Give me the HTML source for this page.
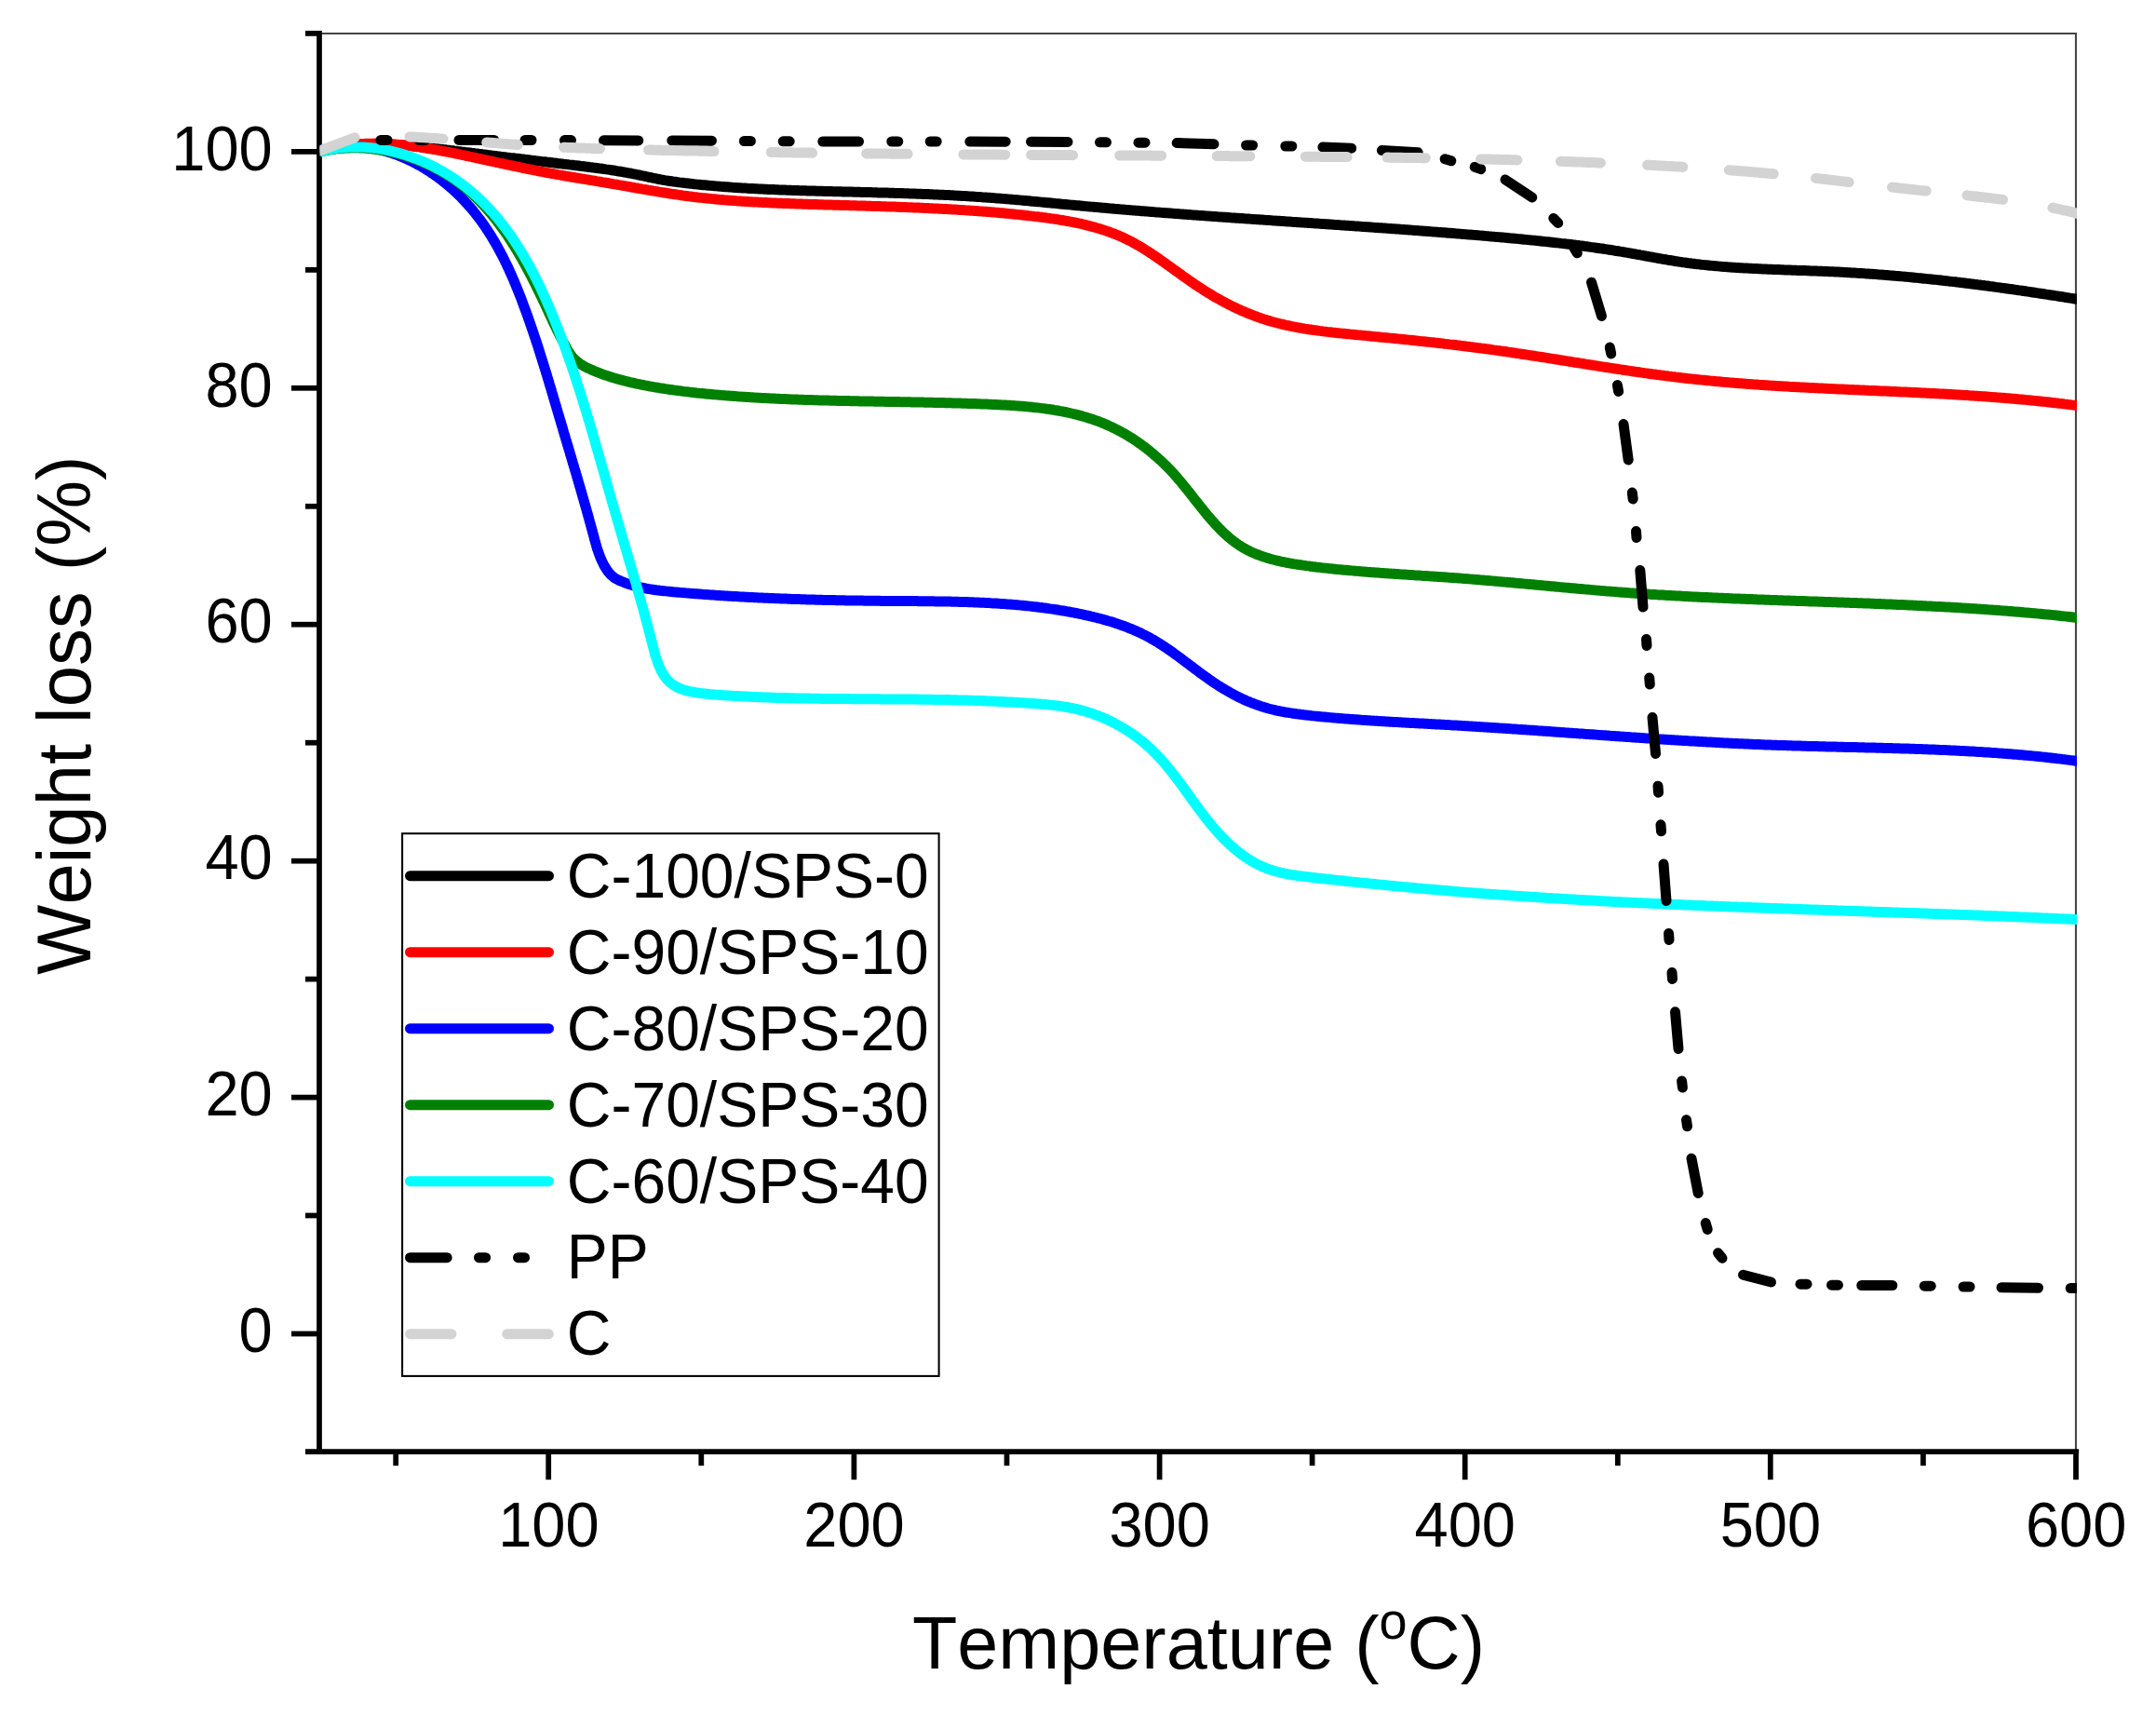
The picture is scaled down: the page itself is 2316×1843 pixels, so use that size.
<!DOCTYPE html>
<html><head><meta charset="utf-8"><title>TGA</title>
<style>html,body{margin:0;padding:0;background:#fff}svg{display:block}</style>
</head><body>
<svg width="2316" height="1843" viewBox="0 0 2316 1843">
<defs><clipPath id="cp"><rect x="343.5" y="36.0" width="1887.5" height="1523.2"/></clipPath></defs>
<rect width="2316" height="1843" fill="#fff"/>
<path d="M343.00,36.05 H2229.95 V1559.20" fill="none" stroke="#444" stroke-width="2.05"/>
<g stroke="#000" stroke-width="5.75" fill="none" stroke-linecap="butt">
<path d="M343.0,33.1 V1562.1"/>
<path d="M328.0,1559.2 H2233.0"/>
<path d="M313.0,1432.5 H343.0"/>
<path d="M328.0,1305.5 H343.0"/>
<path d="M313.0,1178.6 H343.0"/>
<path d="M328.0,1051.6 H343.0"/>
<path d="M313.0,924.7 H343.0"/>
<path d="M328.0,797.7 H343.0"/>
<path d="M313.0,670.7 H343.0"/>
<path d="M328.0,543.8 H343.0"/>
<path d="M313.0,416.8 H343.0"/>
<path d="M328.0,289.9 H343.0"/>
<path d="M313.0,162.9 H343.0"/>
<path d="M328.0,35.9 H343.0"/>
<path d="M425.2,1559.2 V1574.2"/>
<path d="M589.2,1559.2 V1589.2"/>
<path d="M753.3,1559.2 V1574.2"/>
<path d="M917.4,1559.2 V1589.2"/>
<path d="M1081.5,1559.2 V1574.2"/>
<path d="M1245.6,1559.2 V1589.2"/>
<path d="M1409.6,1559.2 V1574.2"/>
<path d="M1573.7,1559.2 V1589.2"/>
<path d="M1737.8,1559.2 V1574.2"/>
<path d="M1901.8,1559.2 V1589.2"/>
<path d="M2065.9,1559.2 V1574.2"/>
<path d="M2230.0,1559.2 V1589.2"/>
</g>
<g clip-path="url(#cp)" fill="none" stroke-linejoin="round">
<path d="M343.4,162.1 L345.3,161.6 L347.3,161.1 L349.2,160.6 L351.2,160.2 L353.2,159.8 L355.1,159.3 L357.1,159.0 L359.1,158.6 L361.1,158.2 L363.0,157.9 L365.0,157.6 L367.0,157.3 L369.0,157.0 L370.9,156.8 L372.9,156.5 L374.9,156.3 L376.9,156.1 L378.9,155.9 L380.8,155.7 L382.8,155.6 L384.8,155.4 L386.8,155.3 L388.8,155.2 L390.8,155.1 L392.7,155.0 L394.7,155.0 L396.7,154.9 L398.7,154.9 L400.7,154.8 L402.7,154.8 L404.7,154.8 L406.7,154.8 L408.6,154.9 L410.6,154.9 L412.6,154.9 L414.6,155.0 L416.6,155.1 L418.6,155.1 L420.6,155.2 L422.6,155.3 L424.6,155.4 L426.6,155.6 L428.6,155.7 L430.6,155.8 L432.6,156.0 L434.6,156.1 L436.6,156.3 L438.6,156.4 L440.5,156.6 L442.5,156.8 L444.5,157.0 L446.5,157.2 L448.5,157.4 L450.5,157.6 L452.5,157.8 L454.5,158.0 L456.5,158.2 L458.5,158.4 L460.5,158.7 L462.5,158.9 L464.5,159.1 L466.5,159.4 L468.5,159.6 L470.5,159.8 L472.5,160.1 L474.5,160.3 L476.4,160.6 L478.4,160.8 L480.4,161.1 L482.4,161.3 L484.4,161.6 L486.4,161.8 L488.4,162.1 L490.4,162.3 L492.4,162.6 L494.4,162.8 L496.4,163.1 L498.3,163.3 L500.3,163.6 L502.3,163.8 L504.3,164.0 L506.3,164.3 L508.3,164.5 L510.3,164.8 L512.2,165.0 L514.2,165.3 L516.2,165.5 L518.2,165.8 L520.2,166.0 L522.2,166.2 L524.2,166.5 L526.1,166.7 L528.1,167.0 L530.1,167.2 L532.1,167.4 L534.1,167.7 L536.0,167.9 L538.0,168.2 L540.0,168.4 L542.0,168.6 L544.0,168.9 L546.0,169.1 L547.9,169.4 L549.9,169.6 L551.9,169.8 L553.9,170.1 L555.9,170.3 L557.8,170.5 L559.8,170.8 L561.8,171.0 L563.8,171.3 L565.8,171.5 L567.8,171.7 L569.7,172.0 L571.7,172.2 L573.7,172.4 L575.7,172.7 L577.7,172.9 L579.6,173.1 L581.6,173.4 L583.6,173.6 L585.6,173.8 L587.6,174.1 L589.5,174.3 L591.5,174.5 L593.5,174.8 L595.5,175.0 L597.5,175.2 L599.5,175.5 L601.4,175.7 L603.4,175.9 L605.4,176.2 L607.4,176.4 L609.4,176.6 L611.4,176.9 L613.4,177.1 L615.3,177.3 L617.3,177.6 L619.3,177.8 L621.3,178.0 L623.3,178.3 L625.3,178.5 L627.2,178.7 L629.2,179.0 L631.2,179.2 L633.2,179.5 L635.2,179.7 L637.2,180.0 L639.2,180.2 L641.1,180.5 L643.1,180.8 L645.1,181.0 L647.1,181.3 L649.1,181.6 L651.0,181.9 L653.0,182.1 L655.0,182.4 L657.0,182.7 L658.9,183.0 L660.9,183.3 L662.9,183.7 L664.9,184.0 L666.8,184.3 L668.8,184.6 L670.8,185.0 L672.7,185.3 L674.7,185.7 L676.7,186.0 L678.6,186.4 L680.6,186.8 L682.5,187.2 L684.5,187.6 L686.5,188.0 L688.4,188.4 L690.4,188.8 L692.3,189.2 L694.3,189.7 L696.2,190.1 L698.2,190.5 L700.1,190.9 L702.1,191.3 L704.0,191.7 L706.0,192.1 L707.9,192.5 L709.9,192.9 L711.8,193.2 L713.8,193.6 L715.8,193.9 L717.7,194.2 L719.7,194.5 L721.7,194.8 L723.7,195.1 L725.6,195.3 L727.6,195.6 L729.6,195.9 L731.6,196.1 L733.6,196.3 L735.5,196.6 L737.5,196.8 L739.5,197.0 L741.5,197.2 L743.5,197.4 L745.5,197.7 L747.4,197.9 L749.4,198.1 L751.4,198.3 L753.4,198.5 L755.4,198.7 L757.4,198.8 L759.4,199.0 L761.4,199.2 L763.3,199.4 L765.3,199.6 L767.3,199.7 L769.3,199.9 L771.3,200.1 L773.3,200.2 L775.3,200.4 L777.3,200.5 L779.3,200.7 L781.3,200.8 L783.3,201.0 L785.2,201.1 L787.2,201.3 L789.2,201.4 L791.2,201.5 L793.2,201.7 L795.2,201.8 L797.2,201.9 L799.2,202.0 L801.2,202.1 L803.2,202.3 L805.2,202.4 L807.2,202.5 L809.2,202.6 L811.2,202.7 L813.2,202.8 L815.2,202.9 L817.2,203.0 L819.2,203.1 L821.2,203.2 L823.2,203.3 L825.2,203.4 L827.2,203.5 L829.2,203.6 L831.2,203.6 L833.2,203.7 L835.2,203.8 L837.2,203.9 L839.2,204.0 L841.2,204.0 L843.2,204.1 L845.2,204.2 L847.2,204.3 L849.2,204.3 L851.2,204.4 L853.2,204.5 L855.2,204.5 L857.2,204.6 L859.2,204.7 L861.2,204.7 L863.2,204.8 L865.2,204.8 L867.2,204.9 L869.2,205.0 L871.2,205.0 L873.2,205.1 L875.2,205.1 L877.2,205.2 L879.2,205.2 L881.2,205.3 L883.2,205.3 L885.2,205.4 L887.2,205.4 L889.2,205.5 L891.2,205.6 L893.2,205.6 L895.2,205.7 L897.2,205.7 L899.2,205.7 L901.3,205.8 L903.3,205.8 L905.3,205.9 L907.3,205.9 L909.3,206.0 L911.3,206.0 L913.3,206.1 L915.3,206.1 L917.3,206.2 L919.3,206.2 L921.3,206.3 L923.3,206.3 L925.3,206.4 L927.3,206.4 L929.3,206.5 L931.3,206.5 L933.3,206.6 L935.3,206.6 L937.3,206.7 L939.3,206.8 L941.3,206.8 L943.3,206.9 L945.3,206.9 L947.3,207.0 L949.3,207.0 L951.3,207.1 L953.3,207.1 L955.3,207.2 L957.3,207.3 L959.3,207.3 L961.3,207.4 L963.3,207.4 L965.3,207.5 L967.3,207.6 L969.3,207.6 L971.3,207.7 L973.3,207.8 L975.3,207.8 L977.3,207.9 L979.2,208.0 L981.2,208.0 L983.2,208.1 L985.2,208.2 L987.2,208.3 L989.2,208.3 L991.2,208.4 L993.2,208.5 L995.2,208.6 L997.2,208.6 L999.2,208.7 L1001.2,208.8 L1003.2,208.9 L1005.2,209.0 L1007.2,209.1 L1009.2,209.2 L1011.2,209.3 L1013.2,209.3 L1015.2,209.4 L1017.2,209.5 L1019.2,209.6 L1021.2,209.7 L1023.2,209.8 L1025.2,209.9 L1027.2,210.1 L1029.2,210.2 L1031.2,210.3 L1033.1,210.4 L1035.1,210.5 L1037.1,210.6 L1039.1,210.7 L1041.1,210.9 L1043.1,211.0 L1045.1,211.1 L1047.1,211.2 L1049.1,211.4 L1051.1,211.5 L1053.1,211.6 L1055.1,211.8 L1057.1,211.9 L1059.1,212.0 L1061.1,212.2 L1063.1,212.3 L1065.1,212.5 L1067.0,212.6 L1069.0,212.8 L1071.0,212.9 L1073.0,213.1 L1075.0,213.2 L1077.0,213.4 L1079.0,213.6 L1081.0,213.7 L1083.0,213.9 L1085.0,214.1 L1087.0,214.2 L1089.0,214.4 L1091.0,214.6 L1092.9,214.7 L1094.9,214.9 L1096.9,215.1 L1098.9,215.3 L1100.9,215.5 L1102.9,215.6 L1104.9,215.8 L1106.9,216.0 L1108.9,216.2 L1110.9,216.4 L1112.9,216.5 L1114.9,216.7 L1116.9,216.9 L1118.8,217.1 L1120.8,217.3 L1122.8,217.5 L1124.8,217.7 L1126.8,217.8 L1128.8,218.0 L1130.8,218.2 L1132.8,218.4 L1134.8,218.6 L1136.8,218.8 L1138.8,219.0 L1140.8,219.2 L1142.7,219.4 L1144.7,219.5 L1146.7,219.7 L1148.7,219.9 L1150.7,220.1 L1152.7,220.3 L1154.7,220.5 L1156.7,220.7 L1158.7,220.8 L1160.7,221.0 L1162.7,221.2 L1164.7,221.4 L1166.7,221.6 L1168.6,221.8 L1170.6,221.9 L1172.6,222.1 L1174.6,222.3 L1176.6,222.5 L1178.6,222.6 L1180.6,222.8 L1182.6,223.0 L1184.6,223.2 L1186.6,223.3 L1188.6,223.5 L1190.6,223.7 L1192.6,223.9 L1194.6,224.0 L1196.5,224.2 L1198.5,224.4 L1200.5,224.5 L1202.5,224.7 L1204.5,224.9 L1206.5,225.0 L1208.5,225.2 L1210.5,225.4 L1212.5,225.5 L1214.5,225.7 L1216.5,225.9 L1218.5,226.0 L1220.5,226.2 L1222.5,226.3 L1224.5,226.5 L1226.4,226.7 L1228.4,226.8 L1230.4,227.0 L1232.4,227.1 L1234.4,227.3 L1236.4,227.5 L1238.4,227.6 L1240.4,227.8 L1242.4,227.9 L1244.4,228.1 L1246.4,228.2 L1248.4,228.4 L1250.4,228.5 L1252.4,228.7 L1254.4,228.8 L1256.4,229.0 L1258.4,229.1 L1260.3,229.3 L1262.3,229.4 L1264.3,229.6 L1266.3,229.7 L1268.3,229.9 L1270.3,230.0 L1272.3,230.2 L1274.3,230.3 L1276.3,230.5 L1278.3,230.6 L1280.3,230.8 L1282.3,230.9 L1284.3,231.1 L1286.3,231.2 L1288.3,231.4 L1290.3,231.5 L1292.3,231.6 L1294.3,231.8 L1296.3,231.9 L1298.3,232.1 L1300.2,232.2 L1302.2,232.4 L1304.2,232.5 L1306.2,232.6 L1308.2,232.8 L1310.2,232.9 L1312.2,233.1 L1314.2,233.2 L1316.2,233.3 L1318.2,233.5 L1320.2,233.6 L1322.2,233.8 L1324.2,233.9 L1326.2,234.0 L1328.2,234.2 L1330.2,234.3 L1332.2,234.5 L1334.2,234.6 L1336.2,234.7 L1338.2,234.9 L1340.1,235.0 L1342.1,235.1 L1344.1,235.3 L1346.1,235.4 L1348.1,235.6 L1350.1,235.7 L1352.1,235.8 L1354.1,236.0 L1356.1,236.1 L1358.1,236.2 L1360.1,236.4 L1362.1,236.5 L1364.1,236.6 L1366.1,236.8 L1368.1,236.9 L1370.1,237.1 L1372.1,237.2 L1374.1,237.3 L1376.1,237.5 L1378.1,237.6 L1380.1,237.7 L1382.1,237.9 L1384.0,238.0 L1386.0,238.1 L1388.0,238.3 L1390.0,238.4 L1392.0,238.5 L1394.0,238.7 L1396.0,238.8 L1398.0,238.9 L1400.0,239.1 L1402.0,239.2 L1404.0,239.3 L1406.0,239.5 L1408.0,239.6 L1410.0,239.7 L1412.0,239.9 L1414.0,240.0 L1416.0,240.1 L1418.0,240.3 L1420.0,240.4 L1422.0,240.6 L1424.0,240.7 L1426.0,240.8 L1427.9,241.0 L1429.9,241.1 L1431.9,241.2 L1433.9,241.4 L1435.9,241.5 L1437.9,241.6 L1439.9,241.8 L1441.9,241.9 L1443.9,242.0 L1445.9,242.2 L1447.9,242.3 L1449.9,242.5 L1451.9,242.6 L1453.9,242.7 L1455.9,242.9 L1457.9,243.0 L1459.9,243.1 L1461.9,243.3 L1463.9,243.4 L1465.9,243.6 L1467.9,243.7 L1469.8,243.8 L1471.8,244.0 L1473.8,244.1 L1475.8,244.3 L1477.8,244.4 L1479.8,244.5 L1481.8,244.7 L1483.8,244.8 L1485.8,245.0 L1487.8,245.1 L1489.8,245.2 L1491.8,245.4 L1493.8,245.5 L1495.8,245.7 L1497.8,245.8 L1499.8,246.0 L1501.8,246.1 L1503.8,246.2 L1505.8,246.4 L1507.7,246.5 L1509.7,246.7 L1511.7,246.8 L1513.7,247.0 L1515.7,247.1 L1517.7,247.3 L1519.7,247.4 L1521.7,247.6 L1523.7,247.7 L1525.7,247.9 L1527.7,248.0 L1529.7,248.2 L1531.7,248.3 L1533.7,248.5 L1535.7,248.6 L1537.7,248.8 L1539.7,248.9 L1541.6,249.1 L1543.6,249.2 L1545.6,249.4 L1547.6,249.5 L1549.6,249.7 L1551.6,249.8 L1553.6,250.0 L1555.6,250.2 L1557.6,250.3 L1559.6,250.5 L1561.6,250.6 L1563.6,250.8 L1565.6,250.9 L1567.6,251.1 L1569.6,251.3 L1571.5,251.4 L1573.5,251.6 L1575.5,251.8 L1577.5,251.9 L1579.5,252.1 L1581.5,252.2 L1583.5,252.4 L1585.5,252.6 L1587.5,252.7 L1589.5,252.9 L1591.5,253.1 L1593.5,253.2 L1595.5,253.4 L1597.5,253.6 L1599.4,253.8 L1601.4,253.9 L1603.4,254.1 L1605.4,254.3 L1607.4,254.4 L1609.4,254.6 L1611.4,254.8 L1613.4,255.0 L1615.4,255.1 L1617.4,255.3 L1619.4,255.5 L1621.4,255.7 L1623.3,255.9 L1625.3,256.0 L1627.3,256.2 L1629.3,256.4 L1631.3,256.6 L1633.3,256.8 L1635.3,257.0 L1637.3,257.2 L1639.3,257.4 L1641.3,257.6 L1643.3,257.8 L1645.2,257.9 L1647.2,258.1 L1649.2,258.3 L1651.2,258.6 L1653.2,258.8 L1655.2,259.0 L1657.2,259.2 L1659.2,259.4 L1661.2,259.6 L1663.1,259.8 L1665.1,260.0 L1667.1,260.2 L1669.1,260.5 L1671.1,260.7 L1673.1,260.9 L1675.1,261.1 L1677.0,261.4 L1679.0,261.6 L1681.0,261.8 L1683.0,262.1 L1685.0,262.3 L1687.0,262.5 L1689.0,262.8 L1690.9,263.0 L1692.9,263.3 L1694.9,263.5 L1696.9,263.8 L1698.9,264.0 L1700.9,264.3 L1702.8,264.6 L1704.8,264.8 L1706.8,265.1 L1708.8,265.4 L1710.8,265.6 L1712.7,265.9 L1714.7,266.2 L1716.7,266.5 L1718.7,266.8 L1720.7,267.0 L1722.6,267.3 L1724.6,267.6 L1726.6,267.9 L1728.6,268.2 L1730.6,268.5 L1732.5,268.8 L1734.5,269.2 L1736.5,269.5 L1738.5,269.8 L1740.4,270.1 L1742.4,270.4 L1744.4,270.8 L1746.3,271.1 L1748.3,271.4 L1750.3,271.8 L1752.3,272.1 L1754.2,272.5 L1756.2,272.8 L1758.2,273.2 L1760.1,273.5 L1762.1,273.9 L1764.1,274.2 L1766.1,274.6 L1768.0,275.0 L1770.0,275.3 L1772.0,275.7 L1773.9,276.0 L1775.9,276.4 L1777.9,276.8 L1779.9,277.1 L1781.8,277.5 L1783.8,277.8 L1785.8,278.2 L1787.7,278.5 L1789.7,278.8 L1791.7,279.2 L1793.7,279.5 L1795.6,279.8 L1797.6,280.1 L1799.6,280.5 L1801.5,280.8 L1803.5,281.1 L1805.5,281.4 L1807.5,281.7 L1809.5,281.9 L1811.4,282.2 L1813.4,282.5 L1815.4,282.7 L1817.4,283.0 L1819.4,283.2 L1821.3,283.5 L1823.3,283.7 L1825.3,283.9 L1827.3,284.2 L1829.3,284.4 L1831.3,284.6 L1833.3,284.8 L1835.2,285.0 L1837.2,285.2 L1839.2,285.4 L1841.2,285.6 L1843.2,285.7 L1845.2,285.9 L1847.2,286.1 L1849.2,286.3 L1851.2,286.4 L1853.2,286.6 L1855.1,286.7 L1857.1,286.9 L1859.1,287.0 L1861.1,287.2 L1863.1,287.3 L1865.1,287.4 L1867.1,287.5 L1869.1,287.7 L1871.1,287.8 L1873.1,287.9 L1875.1,288.0 L1877.1,288.1 L1879.1,288.2 L1881.1,288.3 L1883.1,288.4 L1885.1,288.5 L1887.1,288.6 L1889.1,288.7 L1891.1,288.8 L1893.1,288.9 L1895.1,289.0 L1897.1,289.1 L1899.1,289.2 L1901.1,289.3 L1903.1,289.3 L1905.1,289.4 L1907.1,289.5 L1909.1,289.6 L1911.1,289.6 L1913.1,289.7 L1915.1,289.8 L1917.1,289.9 L1919.1,289.9 L1921.1,290.0 L1923.1,290.1 L1925.1,290.2 L1927.1,290.2 L1929.1,290.3 L1931.1,290.4 L1933.1,290.4 L1935.1,290.5 L1937.1,290.6 L1939.1,290.6 L1941.1,290.7 L1943.1,290.8 L1945.1,290.9 L1947.1,290.9 L1949.1,291.0 L1951.1,291.1 L1953.1,291.2 L1955.1,291.2 L1957.1,291.3 L1959.1,291.4 L1961.1,291.5 L1963.1,291.6 L1965.1,291.7 L1967.1,291.8 L1969.1,291.8 L1971.1,291.9 L1973.1,292.0 L1975.1,292.1 L1977.1,292.2 L1979.1,292.3 L1981.1,292.4 L1983.1,292.6 L1985.1,292.7 L1987.1,292.8 L1989.1,292.9 L1991.1,293.0 L1993.1,293.1 L1995.1,293.3 L1997.1,293.4 L1999.1,293.5 L2001.1,293.6 L2003.1,293.8 L2005.1,293.9 L2007.1,294.0 L2009.1,294.2 L2011.1,294.3 L2013.1,294.5 L2015.1,294.6 L2017.1,294.8 L2019.1,294.9 L2021.1,295.1 L2023.0,295.2 L2025.0,295.4 L2027.0,295.5 L2029.0,295.7 L2031.0,295.9 L2033.0,296.0 L2035.0,296.2 L2037.0,296.4 L2039.0,296.5 L2041.0,296.7 L2043.0,296.9 L2045.0,297.1 L2046.9,297.2 L2048.9,297.4 L2050.9,297.6 L2052.9,297.8 L2054.9,298.0 L2056.9,298.2 L2058.9,298.4 L2060.9,298.6 L2062.9,298.8 L2064.9,299.0 L2066.8,299.2 L2068.8,299.4 L2070.8,299.6 L2072.8,299.8 L2074.8,300.0 L2076.8,300.2 L2078.8,300.4 L2080.8,300.6 L2082.7,300.8 L2084.7,301.0 L2086.7,301.3 L2088.7,301.5 L2090.7,301.7 L2092.7,301.9 L2094.7,302.2 L2096.6,302.4 L2098.6,302.6 L2100.6,302.8 L2102.6,303.1 L2104.6,303.3 L2106.6,303.6 L2108.5,303.8 L2110.5,304.0 L2112.5,304.3 L2114.5,304.5 L2116.5,304.8 L2118.5,305.0 L2120.5,305.3 L2122.4,305.5 L2124.4,305.8 L2126.4,306.0 L2128.4,306.3 L2130.4,306.5 L2132.3,306.8 L2134.3,307.0 L2136.3,307.3 L2138.3,307.6 L2140.3,307.8 L2142.3,308.1 L2144.2,308.4 L2146.2,308.6 L2148.2,308.9 L2150.2,309.2 L2152.2,309.4 L2154.1,309.7 L2156.1,310.0 L2158.1,310.3 L2160.1,310.5 L2162.1,310.8 L2164.0,311.1 L2166.0,311.4 L2168.0,311.7 L2170.0,311.9 L2172.0,312.2 L2173.9,312.5 L2175.9,312.8 L2177.9,313.1 L2179.9,313.4 L2181.9,313.7 L2183.8,314.0 L2185.8,314.3 L2187.8,314.6 L2189.8,314.9 L2191.8,315.2 L2193.7,315.5 L2195.7,315.8 L2197.7,316.1 L2199.7,316.4 L2201.6,316.7 L2203.6,317.0 L2205.6,317.3 L2207.6,317.6 L2209.6,317.9 L2211.5,318.2 L2213.5,318.5 L2215.5,318.8 L2217.5,319.1 L2219.4,319.5 L2221.4,319.8 L2223.4,320.1 L2225.4,320.4 L2227.3,320.7 L2229.3,321.0 L2231.3,321.4 L2233.3,321.7 L2235.3,322.0 L2236.0,322.1" stroke="#000" stroke-width="11.0"/>
<path d="M343.3,162.2 L345.3,161.6 L347.2,161.1 L349.2,160.6 L351.2,160.1 L353.1,159.6 L355.1,159.1 L357.1,158.7 L359.1,158.3 L361.0,157.9 L363.0,157.5 L365.0,157.2 L367.0,156.8 L368.9,156.5 L370.9,156.3 L372.9,156.0 L374.9,155.7 L376.8,155.5 L378.8,155.3 L380.8,155.1 L382.8,154.9 L384.8,154.8 L386.8,154.6 L388.7,154.5 L390.7,154.4 L392.7,154.3 L394.7,154.3 L396.7,154.2 L398.7,154.2 L400.6,154.2 L402.6,154.1 L404.6,154.2 L406.6,154.2 L408.6,154.2 L410.6,154.3 L412.6,154.3 L414.5,154.4 L416.5,154.5 L418.5,154.6 L420.5,154.7 L422.5,154.9 L424.5,155.0 L426.5,155.2 L428.5,155.4 L430.4,155.5 L432.4,155.7 L434.4,155.9 L436.4,156.1 L438.4,156.4 L440.4,156.6 L442.4,156.9 L444.3,157.1 L446.3,157.4 L448.3,157.7 L450.3,157.9 L452.3,158.2 L454.3,158.5 L456.2,158.8 L458.2,159.2 L460.2,159.5 L462.2,159.8 L464.2,160.1 L466.1,160.5 L468.1,160.8 L470.1,161.2 L472.1,161.6 L474.1,161.9 L476.0,162.3 L478.0,162.7 L480.0,163.1 L482.0,163.4 L483.9,163.8 L485.9,164.2 L487.9,164.6 L489.8,165.0 L491.8,165.4 L493.8,165.8 L495.7,166.3 L497.7,166.7 L499.7,167.1 L501.6,167.5 L503.6,167.9 L505.6,168.3 L507.5,168.8 L509.5,169.2 L511.4,169.6 L513.4,170.0 L515.4,170.5 L517.3,170.9 L519.3,171.3 L521.2,171.7 L523.2,172.1 L525.1,172.6 L527.1,173.0 L529.0,173.4 L531.0,173.8 L532.9,174.3 L534.9,174.7 L536.8,175.1 L538.8,175.5 L540.7,175.9 L542.7,176.4 L544.6,176.8 L546.6,177.2 L548.5,177.6 L550.5,178.0 L552.4,178.4 L554.4,178.8 L556.3,179.2 L558.3,179.7 L560.3,180.1 L562.2,180.5 L564.2,180.9 L566.1,181.3 L568.1,181.7 L570.0,182.0 L572.0,182.4 L573.9,182.8 L575.9,183.2 L577.8,183.6 L579.8,184.0 L581.8,184.3 L583.7,184.7 L585.7,185.1 L587.6,185.5 L589.6,185.8 L591.6,186.2 L593.5,186.5 L595.5,186.9 L597.5,187.2 L599.4,187.6 L601.4,187.9 L603.4,188.3 L605.3,188.6 L607.3,189.0 L609.3,189.3 L611.3,189.6 L613.2,190.0 L615.2,190.3 L617.2,190.6 L619.1,191.0 L621.1,191.3 L623.1,191.6 L625.1,192.0 L627.0,192.3 L629.0,192.6 L631.0,192.9 L633.0,193.3 L634.9,193.6 L636.9,193.9 L638.9,194.2 L640.9,194.6 L642.9,194.9 L644.8,195.2 L646.8,195.6 L648.8,195.9 L650.7,196.2 L652.7,196.5 L654.7,196.9 L656.7,197.2 L658.6,197.6 L660.6,197.9 L662.6,198.2 L664.6,198.6 L666.5,198.9 L668.5,199.3 L670.5,199.6 L672.4,199.9 L674.4,200.3 L676.4,200.6 L678.3,201.0 L680.3,201.3 L682.3,201.7 L684.2,202.0 L686.2,202.4 L688.2,202.7 L690.2,203.1 L692.1,203.4 L694.1,203.7 L696.1,204.1 L698.0,204.4 L700.0,204.7 L702.0,205.1 L703.9,205.4 L705.9,205.7 L707.9,206.1 L709.8,206.4 L711.8,206.7 L713.8,207.0 L715.8,207.3 L717.7,207.6 L719.7,208.0 L721.7,208.3 L723.6,208.5 L725.6,208.8 L727.6,209.1 L729.6,209.4 L731.6,209.7 L733.5,210.0 L735.5,210.2 L737.5,210.5 L739.5,210.8 L741.5,211.0 L743.4,211.2 L745.4,211.5 L747.4,211.7 L749.4,212.0 L751.4,212.2 L753.4,212.4 L755.3,212.6 L757.3,212.8 L759.3,213.0 L761.3,213.2 L763.3,213.4 L765.3,213.6 L767.3,213.8 L769.3,214.0 L771.3,214.2 L773.3,214.4 L775.3,214.5 L777.2,214.7 L779.2,214.9 L781.2,215.0 L783.2,215.2 L785.2,215.3 L787.2,215.5 L789.2,215.6 L791.2,215.8 L793.2,215.9 L795.2,216.0 L797.2,216.2 L799.2,216.3 L801.2,216.4 L803.2,216.5 L805.2,216.7 L807.2,216.8 L809.2,216.9 L811.2,217.0 L813.2,217.1 L815.2,217.2 L817.2,217.3 L819.2,217.4 L821.2,217.5 L823.2,217.6 L825.2,217.7 L827.2,217.8 L829.2,217.9 L831.2,218.0 L833.2,218.1 L835.2,218.2 L837.2,218.2 L839.2,218.3 L841.2,218.4 L843.2,218.5 L845.2,218.6 L847.2,218.6 L849.3,218.7 L851.3,218.8 L853.3,218.8 L855.3,218.9 L857.3,219.0 L859.3,219.0 L861.3,219.1 L863.3,219.2 L865.3,219.2 L867.3,219.3 L869.3,219.4 L871.3,219.4 L873.3,219.5 L875.3,219.6 L877.3,219.6 L879.3,219.7 L881.3,219.7 L883.3,219.8 L885.3,219.9 L887.2,219.9 L889.2,220.0 L891.2,220.0 L893.2,220.1 L895.2,220.2 L897.2,220.2 L899.2,220.3 L901.2,220.3 L903.2,220.4 L905.2,220.4 L907.2,220.5 L909.2,220.6 L911.2,220.6 L913.2,220.7 L915.2,220.7 L917.2,220.8 L919.2,220.8 L921.2,220.9 L923.2,221.0 L925.2,221.0 L927.2,221.1 L929.2,221.1 L931.2,221.2 L933.2,221.3 L935.2,221.3 L937.2,221.4 L939.2,221.4 L941.1,221.5 L943.1,221.6 L945.1,221.6 L947.1,221.7 L949.1,221.7 L951.1,221.8 L953.1,221.9 L955.1,221.9 L957.1,222.0 L959.1,222.1 L961.1,222.1 L963.1,222.2 L965.1,222.3 L967.1,222.4 L969.1,222.4 L971.1,222.5 L973.1,222.6 L975.1,222.7 L977.0,222.7 L979.0,222.8 L981.0,222.9 L983.0,223.0 L985.0,223.1 L987.0,223.1 L989.0,223.2 L991.0,223.3 L993.0,223.4 L995.0,223.5 L997.0,223.6 L999.0,223.7 L1001.0,223.8 L1003.0,223.9 L1005.0,224.0 L1007.0,224.1 L1009.0,224.2 L1011.0,224.3 L1012.9,224.4 L1014.9,224.5 L1016.9,224.6 L1018.9,224.7 L1020.9,224.8 L1022.9,224.9 L1024.9,225.0 L1026.9,225.1 L1028.9,225.3 L1030.9,225.4 L1032.9,225.5 L1034.9,225.6 L1036.9,225.8 L1038.9,225.9 L1040.9,226.0 L1042.9,226.2 L1044.9,226.3 L1046.9,226.4 L1048.9,226.6 L1050.9,226.7 L1052.9,226.9 L1054.9,227.0 L1056.9,227.2 L1058.9,227.3 L1060.9,227.5 L1062.8,227.6 L1064.8,227.8 L1066.8,228.0 L1068.8,228.1 L1070.8,228.3 L1072.8,228.5 L1074.8,228.7 L1076.8,228.8 L1078.8,229.0 L1080.8,229.2 L1082.8,229.4 L1084.8,229.6 L1086.8,229.8 L1088.8,230.0 L1090.8,230.2 L1092.8,230.4 L1094.8,230.6 L1096.8,230.8 L1098.8,231.0 L1100.8,231.2 L1102.8,231.4 L1104.8,231.7 L1106.8,231.9 L1108.8,232.1 L1110.9,232.4 L1112.9,232.6 L1114.9,232.8 L1116.9,233.1 L1118.9,233.3 L1120.9,233.6 L1122.9,233.8 L1124.9,234.1 L1126.9,234.4 L1128.9,234.7 L1130.9,234.9 L1132.9,235.2 L1134.8,235.5 L1136.8,235.8 L1138.8,236.2 L1140.8,236.5 L1142.8,236.8 L1144.8,237.2 L1146.8,237.5 L1148.7,237.9 L1150.7,238.2 L1152.7,238.6 L1154.6,239.0 L1156.6,239.4 L1158.6,239.8 L1160.5,240.2 L1162.5,240.7 L1164.4,241.1 L1166.3,241.6 L1168.3,242.1 L1170.2,242.6 L1172.1,243.1 L1174.1,243.6 L1176.0,244.1 L1177.9,244.7 L1179.8,245.2 L1181.7,245.8 L1183.6,246.4 L1185.5,247.0 L1187.3,247.6 L1189.2,248.3 L1191.1,248.9 L1192.9,249.6 L1194.8,250.3 L1196.6,251.0 L1198.4,251.7 L1200.3,252.5 L1202.1,253.2 L1203.9,254.0 L1205.7,254.8 L1207.5,255.6 L1209.3,256.5 L1211.0,257.4 L1212.8,258.2 L1214.6,259.1 L1216.3,260.1 L1218.1,261.0 L1219.8,262.0 L1221.5,263.0 L1223.2,263.9 L1225.0,265.0 L1226.7,266.0 L1228.4,267.0 L1230.1,268.1 L1231.7,269.1 L1233.4,270.2 L1235.1,271.3 L1236.8,272.4 L1238.5,273.5 L1240.1,274.6 L1241.8,275.8 L1243.4,276.9 L1245.1,278.1 L1246.7,279.2 L1248.4,280.4 L1250.0,281.5 L1251.7,282.7 L1253.3,283.9 L1255.0,285.1 L1256.6,286.2 L1258.3,287.4 L1259.9,288.6 L1261.5,289.8 L1263.2,291.0 L1264.8,292.2 L1266.5,293.3 L1268.1,294.5 L1269.7,295.7 L1271.4,296.9 L1273.0,298.0 L1274.7,299.2 L1276.3,300.4 L1278.0,301.5 L1279.7,302.7 L1281.3,303.8 L1283.0,305.0 L1284.6,306.1 L1286.3,307.2 L1288.0,308.3 L1289.7,309.4 L1291.4,310.5 L1293.0,311.6 L1294.7,312.7 L1296.4,313.7 L1298.1,314.8 L1299.9,315.8 L1301.6,316.8 L1303.3,317.9 L1305.0,318.9 L1306.7,319.9 L1308.5,320.8 L1310.2,321.8 L1311.9,322.8 L1313.7,323.7 L1315.4,324.7 L1317.2,325.6 L1318.9,326.5 L1320.7,327.4 L1322.5,328.3 L1324.3,329.2 L1326.0,330.0 L1327.8,330.9 L1329.6,331.7 L1331.4,332.5 L1333.2,333.4 L1335.0,334.2 L1336.8,334.9 L1338.7,335.7 L1340.5,336.5 L1342.3,337.2 L1344.1,337.9 L1346.0,338.6 L1347.8,339.3 L1349.7,340.0 L1351.5,340.7 L1353.4,341.3 L1355.3,342.0 L1357.1,342.6 L1359.0,343.2 L1360.9,343.8 L1362.8,344.4 L1364.7,344.9 L1366.6,345.5 L1368.5,346.0 L1370.4,346.5 L1372.3,347.0 L1374.3,347.5 L1376.2,348.0 L1378.1,348.4 L1380.1,348.9 L1382.0,349.3 L1383.9,349.7 L1385.9,350.2 L1387.8,350.6 L1389.8,350.9 L1391.8,351.3 L1393.7,351.7 L1395.7,352.0 L1397.7,352.4 L1399.6,352.7 L1401.6,353.1 L1403.6,353.4 L1405.6,353.7 L1407.6,354.0 L1409.6,354.3 L1411.6,354.6 L1413.6,354.8 L1415.6,355.1 L1417.6,355.4 L1419.6,355.6 L1421.6,355.9 L1423.6,356.1 L1425.6,356.4 L1427.6,356.6 L1429.6,356.8 L1431.6,357.1 L1433.6,357.3 L1435.6,357.5 L1437.6,357.7 L1439.6,357.9 L1441.6,358.1 L1443.7,358.3 L1445.7,358.5 L1447.7,358.7 L1449.7,358.9 L1451.7,359.1 L1453.7,359.3 L1455.7,359.5 L1457.7,359.7 L1459.7,359.9 L1461.8,360.1 L1463.8,360.2 L1465.8,360.4 L1467.8,360.6 L1469.8,360.8 L1471.8,361.0 L1473.8,361.2 L1475.8,361.4 L1477.8,361.6 L1479.8,361.8 L1481.8,362.0 L1483.8,362.2 L1485.8,362.4 L1487.8,362.6 L1489.8,362.7 L1491.8,362.9 L1493.8,363.1 L1495.8,363.3 L1497.8,363.5 L1499.8,363.7 L1501.7,363.9 L1503.7,364.1 L1505.7,364.3 L1507.7,364.5 L1509.7,364.7 L1511.7,364.9 L1513.7,365.1 L1515.7,365.3 L1517.7,365.5 L1519.6,365.7 L1521.6,365.9 L1523.6,366.2 L1525.6,366.4 L1527.6,366.6 L1529.6,366.8 L1531.6,367.0 L1533.5,367.2 L1535.5,367.4 L1537.5,367.6 L1539.5,367.8 L1541.5,368.1 L1543.4,368.3 L1545.4,368.5 L1547.4,368.7 L1549.4,368.9 L1551.4,369.2 L1553.3,369.4 L1555.3,369.6 L1557.3,369.9 L1559.3,370.1 L1561.2,370.3 L1563.2,370.5 L1565.2,370.8 L1567.2,371.0 L1569.2,371.3 L1571.1,371.5 L1573.1,371.7 L1575.1,372.0 L1577.1,372.2 L1579.0,372.5 L1581.0,372.7 L1583.0,373.0 L1585.0,373.2 L1586.9,373.5 L1588.9,373.7 L1590.9,374.0 L1592.9,374.2 L1594.8,374.5 L1596.8,374.8 L1598.8,375.0 L1600.8,375.3 L1602.7,375.6 L1604.7,375.9 L1606.7,376.1 L1608.7,376.4 L1610.6,376.7 L1612.6,377.0 L1614.6,377.2 L1616.6,377.5 L1618.5,377.8 L1620.5,378.1 L1622.5,378.4 L1624.5,378.7 L1626.4,379.0 L1628.4,379.3 L1630.4,379.6 L1632.4,379.9 L1634.3,380.2 L1636.3,380.5 L1638.3,380.8 L1640.3,381.1 L1642.2,381.4 L1644.2,381.7 L1646.2,382.0 L1648.2,382.3 L1650.1,382.6 L1652.1,382.9 L1654.1,383.2 L1656.1,383.5 L1658.0,383.8 L1660.0,384.1 L1662.0,384.4 L1664.0,384.8 L1665.9,385.1 L1667.9,385.4 L1669.9,385.7 L1671.9,386.0 L1673.8,386.3 L1675.8,386.6 L1677.8,387.0 L1679.8,387.3 L1681.8,387.6 L1683.7,387.9 L1685.7,388.2 L1687.7,388.5 L1689.7,388.9 L1691.6,389.2 L1693.6,389.5 L1695.6,389.8 L1697.6,390.1 L1699.5,390.4 L1701.5,390.7 L1703.5,391.1 L1705.5,391.4 L1707.5,391.7 L1709.4,392.0 L1711.4,392.3 L1713.4,392.6 L1715.4,392.9 L1717.4,393.3 L1719.3,393.6 L1721.3,393.9 L1723.3,394.2 L1725.3,394.5 L1727.2,394.8 L1729.2,395.1 L1731.2,395.4 L1733.2,395.7 L1735.2,396.0 L1737.1,396.3 L1739.1,396.6 L1741.1,396.9 L1743.1,397.2 L1745.1,397.5 L1747.0,397.8 L1749.0,398.1 L1751.0,398.4 L1753.0,398.7 L1755.0,399.0 L1757.0,399.3 L1758.9,399.5 L1760.9,399.8 L1762.9,400.1 L1764.9,400.4 L1766.9,400.7 L1768.8,400.9 L1770.8,401.2 L1772.8,401.5 L1774.8,401.8 L1776.8,402.0 L1778.8,402.3 L1780.7,402.6 L1782.7,402.8 L1784.7,403.1 L1786.7,403.3 L1788.7,403.6 L1790.7,403.8 L1792.7,404.1 L1794.6,404.3 L1796.6,404.6 L1798.6,404.8 L1800.6,405.1 L1802.6,405.3 L1804.6,405.5 L1806.6,405.8 L1808.5,406.0 L1810.5,406.2 L1812.5,406.5 L1814.5,406.7 L1816.5,406.9 L1818.5,407.1 L1820.5,407.3 L1822.5,407.5 L1824.4,407.7 L1826.4,407.9 L1828.4,408.1 L1830.4,408.3 L1832.4,408.5 L1834.4,408.7 L1836.4,408.9 L1838.4,409.1 L1840.4,409.3 L1842.4,409.5 L1844.3,409.7 L1846.3,409.8 L1848.3,410.0 L1850.3,410.2 L1852.3,410.4 L1854.3,410.5 L1856.3,410.7 L1858.3,410.9 L1860.3,411.0 L1862.3,411.2 L1864.3,411.4 L1866.2,411.5 L1868.2,411.7 L1870.2,411.8 L1872.2,412.0 L1874.2,412.1 L1876.2,412.3 L1878.2,412.4 L1880.2,412.6 L1882.2,412.7 L1884.2,412.9 L1886.2,413.0 L1888.2,413.1 L1890.2,413.3 L1892.2,413.4 L1894.2,413.5 L1896.1,413.7 L1898.1,413.8 L1900.1,413.9 L1902.1,414.1 L1904.1,414.2 L1906.1,414.3 L1908.1,414.4 L1910.1,414.6 L1912.1,414.7 L1914.1,414.8 L1916.1,414.9 L1918.1,415.0 L1920.1,415.1 L1922.1,415.3 L1924.1,415.4 L1926.1,415.5 L1928.1,415.6 L1930.1,415.7 L1932.1,415.8 L1934.1,415.9 L1936.1,416.0 L1938.1,416.1 L1940.1,416.2 L1942.0,416.3 L1944.0,416.4 L1946.0,416.5 L1948.0,416.6 L1950.0,416.7 L1952.0,416.8 L1954.0,416.9 L1956.0,417.0 L1958.0,417.1 L1960.0,417.2 L1962.0,417.3 L1964.0,417.4 L1966.0,417.5 L1968.0,417.6 L1970.0,417.7 L1972.0,417.8 L1974.0,417.9 L1976.0,417.9 L1978.0,418.0 L1980.0,418.1 L1982.0,418.2 L1984.0,418.3 L1986.0,418.4 L1988.0,418.5 L1990.0,418.6 L1992.0,418.7 L1994.0,418.7 L1996.0,418.8 L1998.0,418.9 L2000.0,419.0 L2002.0,419.1 L2004.0,419.2 L2006.0,419.3 L2008.0,419.4 L2010.0,419.4 L2012.0,419.5 L2014.0,419.6 L2016.0,419.7 L2018.0,419.8 L2020.0,419.9 L2022.0,420.0 L2024.0,420.1 L2026.0,420.1 L2028.0,420.2 L2030.0,420.3 L2032.0,420.4 L2034.0,420.5 L2035.9,420.6 L2037.9,420.7 L2039.9,420.8 L2041.9,420.9 L2043.9,420.9 L2045.9,421.0 L2047.9,421.1 L2049.9,421.2 L2051.9,421.3 L2053.9,421.4 L2055.9,421.5 L2057.9,421.6 L2059.9,421.7 L2061.9,421.8 L2063.9,421.9 L2065.9,422.0 L2067.9,422.1 L2069.9,422.2 L2071.9,422.3 L2073.9,422.4 L2075.9,422.5 L2077.9,422.6 L2079.9,422.7 L2081.9,422.8 L2083.9,422.9 L2085.9,423.0 L2087.9,423.1 L2089.9,423.2 L2091.9,423.3 L2093.9,423.5 L2095.9,423.6 L2097.9,423.7 L2099.9,423.8 L2101.9,423.9 L2103.9,424.0 L2105.9,424.2 L2107.9,424.3 L2109.9,424.4 L2111.8,424.5 L2113.8,424.6 L2115.8,424.8 L2117.8,424.9 L2119.8,425.0 L2121.8,425.2 L2123.8,425.3 L2125.8,425.4 L2127.8,425.6 L2129.8,425.7 L2131.8,425.8 L2133.8,426.0 L2135.8,426.1 L2137.8,426.3 L2139.8,426.4 L2141.8,426.6 L2143.8,426.7 L2145.8,426.9 L2147.8,427.0 L2149.8,427.2 L2151.7,427.3 L2153.7,427.5 L2155.7,427.7 L2157.7,427.8 L2159.7,428.0 L2161.7,428.2 L2163.7,428.3 L2165.7,428.5 L2167.7,428.7 L2169.7,428.9 L2171.7,429.0 L2173.7,429.2 L2175.7,429.4 L2177.6,429.6 L2179.6,429.8 L2181.6,430.0 L2183.6,430.2 L2185.6,430.4 L2187.6,430.6 L2189.6,430.8 L2191.6,431.0 L2193.6,431.2 L2195.6,431.4 L2197.6,431.6 L2199.5,431.8 L2201.5,432.0 L2203.5,432.3 L2205.5,432.5 L2207.5,432.7 L2209.5,432.9 L2211.5,433.2 L2213.5,433.4 L2215.5,433.6 L2217.4,433.9 L2219.4,434.1 L2221.4,434.4 L2223.4,434.6 L2225.4,434.9 L2227.4,435.1 L2229.4,435.4 L2231.4,435.6 L2233.3,435.9 L2235.0,436.1" stroke="#ff0000" stroke-width="11.0"/>
<path d="M343.3,161.8 L345.3,161.2 L347.3,160.7 L349.3,160.2 L351.3,159.8 L353.3,159.4 L355.3,159.0 L357.3,158.7 L359.3,158.4 L361.3,158.1 L363.3,157.9 L365.3,157.7 L367.3,157.5 L369.3,157.4 L371.3,157.3 L373.2,157.2 L375.2,157.2 L377.2,157.2 L379.2,157.2 L381.2,157.2 L383.2,157.3 L385.1,157.4 L387.1,157.6 L389.1,157.7 L391.0,157.9 L393.0,158.2 L395.0,158.4 L396.9,158.7 L398.9,159.0 L400.8,159.4 L402.8,159.7 L404.7,160.1 L406.6,160.6 L408.6,161.0 L410.5,161.5 L412.4,162.0 L414.3,162.5 L416.2,163.1 L418.1,163.6 L420.0,164.2 L421.9,164.9 L423.8,165.5 L425.7,166.2 L427.5,166.9 L429.4,167.6 L431.3,168.4 L433.1,169.1 L434.9,169.9 L436.8,170.8 L438.6,171.6 L440.4,172.4 L442.2,173.3 L444.0,174.2 L445.8,175.2 L447.6,176.1 L449.4,177.1 L451.1,178.0 L452.9,179.0 L454.6,180.1 L456.3,181.1 L458.1,182.2 L459.8,183.2 L461.5,184.3 L463.2,185.5 L464.8,186.6 L466.5,187.7 L468.2,188.9 L469.8,190.1 L471.4,191.3 L473.1,192.5 L474.7,193.8 L476.3,195.0 L477.8,196.3 L479.4,197.6 L481.0,198.8 L482.5,200.2 L484.0,201.5 L485.6,202.8 L487.1,204.2 L488.6,205.5 L490.0,206.9 L491.5,208.3 L492.9,209.7 L494.4,211.1 L495.8,212.6 L497.2,214.0 L498.6,215.5 L499.9,216.9 L501.3,218.4 L502.6,219.9 L504.0,221.4 L505.3,222.9 L506.6,224.4 L507.9,225.9 L509.1,227.5 L510.4,229.0 L511.6,230.6 L512.8,232.1 L514.0,233.7 L515.2,235.3 L516.4,236.9 L517.6,238.5 L518.7,240.1 L519.8,241.7 L521.0,243.4 L522.1,245.0 L523.2,246.7 L524.3,248.3 L525.3,250.0 L526.4,251.7 L527.5,253.3 L528.5,255.0 L529.5,256.7 L530.5,258.4 L531.5,260.1 L532.5,261.8 L533.5,263.6 L534.5,265.3 L535.4,267.0 L536.4,268.8 L537.3,270.5 L538.2,272.3 L539.2,274.0 L540.1,275.8 L541.0,277.6 L541.9,279.4 L542.7,281.1 L543.6,282.9 L544.5,284.7 L545.3,286.5 L546.2,288.3 L547.0,290.1 L547.8,292.0 L548.6,293.8 L549.5,295.6 L550.3,297.4 L551.1,299.3 L551.9,301.1 L552.6,302.9 L553.4,304.8 L554.2,306.6 L554.9,308.5 L555.7,310.3 L556.4,312.2 L557.2,314.1 L557.9,315.9 L558.7,317.8 L559.4,319.7 L560.1,321.5 L560.8,323.4 L561.5,325.3 L562.2,327.2 L562.9,329.1 L563.6,330.9 L564.3,332.8 L565.0,334.7 L565.7,336.6 L566.4,338.5 L567.1,340.4 L567.7,342.3 L568.4,344.2 L569.1,346.1 L569.7,348.0 L570.4,349.9 L571.0,351.8 L571.7,353.7 L572.3,355.6 L573.0,357.5 L573.6,359.4 L574.2,361.3 L574.9,363.2 L575.5,365.1 L576.1,367.0 L576.8,368.9 L577.4,370.8 L578.0,372.7 L578.6,374.6 L579.2,376.5 L579.8,378.5 L580.4,380.4 L581.0,382.3 L581.6,384.2 L582.2,386.1 L582.8,388.0 L583.4,390.0 L584.0,391.9 L584.6,393.8 L585.2,395.7 L585.8,397.6 L586.4,399.6 L587.0,401.5 L587.6,403.4 L588.1,405.3 L588.7,407.2 L589.3,409.1 L589.9,411.1 L590.4,413.0 L591.0,414.9 L591.6,416.8 L592.2,418.7 L592.7,420.7 L593.3,422.6 L593.9,424.5 L594.4,426.4 L595.0,428.3 L595.6,430.3 L596.1,432.2 L596.7,434.1 L597.3,436.0 L597.8,437.9 L598.4,439.8 L599.0,441.8 L599.5,443.7 L600.1,445.6 L600.7,447.5 L601.2,449.4 L601.8,451.3 L602.4,453.2 L602.9,455.1 L603.5,457.0 L604.1,458.9 L604.6,460.8 L605.2,462.8 L605.7,464.7 L606.3,466.6 L606.9,468.5 L607.4,470.4 L608.0,472.3 L608.6,474.2 L609.1,476.1 L609.7,478.0 L610.3,479.9 L610.8,481.8 L611.4,483.7 L612.0,485.6 L612.5,487.5 L613.1,489.4 L613.7,491.3 L614.2,493.2 L614.8,495.1 L615.3,497.0 L615.9,498.9 L616.5,500.8 L617.0,502.7 L617.6,504.6 L618.2,506.5 L618.7,508.4 L619.3,510.3 L619.8,512.2 L620.4,514.2 L621.0,516.1 L621.5,518.0 L622.1,519.9 L622.6,521.8 L623.2,523.7 L623.7,525.6 L624.3,527.5 L624.8,529.4 L625.4,531.4 L625.9,533.3 L626.5,535.2 L627.0,537.1 L627.6,539.0 L628.1,541.0 L628.7,542.9 L629.2,544.8 L629.8,546.7 L630.3,548.7 L630.9,550.6 L631.4,552.5 L631.9,554.5 L632.5,556.4 L633.0,558.3 L633.5,560.3 L634.1,562.2 L634.6,564.2 L635.1,566.1 L635.7,568.1 L636.2,570.0 L636.7,572.0 L637.3,573.9 L637.8,575.9 L638.3,577.8 L638.8,579.8 L639.4,581.7 L639.9,583.7 L640.5,585.6 L641.0,587.6 L641.6,589.5 L642.3,591.4 L642.9,593.3 L643.6,595.2 L644.3,597.1 L645.0,599.0 L645.8,600.8 L646.6,602.6 L647.5,604.4 L648.4,606.2 L649.3,607.9 L650.3,609.6 L651.4,611.3 L652.5,613.0 L653.7,614.5 L655.0,616.1 L656.4,617.5 L657.8,618.8 L659.4,620.1 L661.0,621.2 L662.8,622.2 L664.6,623.1 L666.4,623.9 L668.3,624.7 L670.2,625.4 L672.0,626.2 L673.9,626.8 L675.8,627.5 L677.7,628.1 L679.6,628.7 L681.6,629.2 L683.5,629.7 L685.4,630.2 L687.4,630.7 L689.3,631.1 L691.3,631.5 L693.2,631.9 L695.2,632.3 L697.1,632.6 L699.1,632.9 L701.1,633.2 L703.0,633.5 L705.0,633.8 L707.0,634.0 L709.0,634.3 L711.0,634.5 L713.0,634.7 L715.0,634.9 L717.0,635.1 L719.0,635.3 L721.0,635.5 L722.9,635.7 L724.9,635.9 L726.9,636.0 L728.9,636.2 L730.9,636.4 L732.9,636.6 L734.9,636.7 L736.9,636.9 L738.9,637.1 L740.9,637.2 L742.9,637.4 L744.9,637.5 L746.9,637.7 L748.9,637.8 L750.9,638.0 L752.9,638.1 L754.9,638.3 L756.9,638.4 L758.9,638.6 L760.9,638.7 L762.9,638.9 L764.9,639.0 L766.9,639.1 L768.8,639.3 L770.8,639.4 L772.8,639.5 L774.8,639.7 L776.8,639.8 L778.8,639.9 L780.8,640.0 L782.8,640.2 L784.8,640.3 L786.8,640.4 L788.8,640.5 L790.8,640.6 L792.8,640.7 L794.8,640.9 L796.8,641.0 L798.8,641.1 L800.8,641.2 L802.8,641.3 L804.7,641.4 L806.7,641.5 L808.7,641.6 L810.7,641.7 L812.7,641.8 L814.7,641.9 L816.7,642.0 L818.7,642.1 L820.7,642.2 L822.7,642.2 L824.7,642.3 L826.7,642.4 L828.7,642.5 L830.7,642.6 L832.7,642.7 L834.7,642.8 L836.7,642.8 L838.6,642.9 L840.6,643.0 L842.6,643.1 L844.6,643.1 L846.6,643.2 L848.6,643.3 L850.6,643.4 L852.6,643.4 L854.6,643.5 L856.6,643.6 L858.6,643.6 L860.6,643.7 L862.6,643.7 L864.6,643.8 L866.6,643.9 L868.6,643.9 L870.6,644.0 L872.6,644.0 L874.6,644.1 L876.6,644.2 L878.6,644.2 L880.6,644.3 L882.6,644.3 L884.5,644.4 L886.5,644.4 L888.5,644.4 L890.5,644.5 L892.5,644.5 L894.5,644.6 L896.5,644.6 L898.5,644.7 L900.5,644.7 L902.5,644.7 L904.5,644.8 L906.5,644.8 L908.5,644.9 L910.5,644.9 L912.5,644.9 L914.5,645.0 L916.5,645.0 L918.5,645.0 L920.5,645.0 L922.5,645.1 L924.5,645.1 L926.5,645.1 L928.5,645.2 L930.5,645.2 L932.5,645.2 L934.5,645.2 L936.5,645.3 L938.5,645.3 L940.5,645.3 L942.5,645.3 L944.5,645.3 L946.5,645.4 L948.5,645.4 L950.5,645.4 L952.5,645.4 L954.5,645.4 L956.6,645.4 L958.6,645.5 L960.6,645.5 L962.6,645.5 L964.6,645.5 L966.6,645.5 L968.6,645.5 L970.6,645.5 L972.6,645.5 L974.6,645.6 L976.6,645.6 L978.6,645.6 L980.6,645.6 L982.6,645.6 L984.6,645.6 L986.6,645.7 L988.6,645.7 L990.6,645.7 L992.6,645.7 L994.6,645.7 L996.7,645.8 L998.7,645.8 L1000.7,645.8 L1002.7,645.8 L1004.7,645.9 L1006.7,645.9 L1008.7,645.9 L1010.7,645.9 L1012.7,646.0 L1014.7,646.0 L1016.7,646.1 L1018.7,646.1 L1020.7,646.1 L1022.7,646.2 L1024.7,646.2 L1026.7,646.3 L1028.7,646.3 L1030.7,646.4 L1032.7,646.4 L1034.7,646.5 L1036.7,646.6 L1038.7,646.6 L1040.7,646.7 L1042.7,646.8 L1044.7,646.8 L1046.7,646.9 L1048.7,647.0 L1050.7,647.1 L1052.7,647.2 L1054.7,647.2 L1056.7,647.3 L1058.7,647.4 L1060.7,647.5 L1062.7,647.6 L1064.7,647.8 L1066.7,647.9 L1068.7,648.0 L1070.7,648.1 L1072.7,648.2 L1074.7,648.4 L1076.7,648.5 L1078.7,648.6 L1080.7,648.8 L1082.7,648.9 L1084.7,649.1 L1086.7,649.2 L1088.7,649.4 L1090.7,649.6 L1092.6,649.7 L1094.6,649.9 L1096.6,650.1 L1098.6,650.3 L1100.6,650.5 L1102.6,650.7 L1104.6,650.9 L1106.6,651.1 L1108.5,651.3 L1110.5,651.6 L1112.5,651.8 L1114.5,652.0 L1116.5,652.3 L1118.5,652.5 L1120.4,652.8 L1122.4,653.0 L1124.4,653.3 L1126.4,653.6 L1128.3,653.9 L1130.3,654.1 L1132.3,654.4 L1134.3,654.7 L1136.2,655.0 L1138.2,655.4 L1140.2,655.7 L1142.2,656.0 L1144.1,656.3 L1146.1,656.7 L1148.1,657.0 L1150.0,657.4 L1152.0,657.8 L1154.0,658.1 L1155.9,658.5 L1157.9,658.9 L1159.9,659.3 L1161.8,659.7 L1163.8,660.1 L1165.7,660.6 L1167.7,661.0 L1169.6,661.4 L1171.6,661.9 L1173.5,662.3 L1175.5,662.8 L1177.4,663.3 L1179.4,663.8 L1181.3,664.3 L1183.2,664.8 L1185.2,665.3 L1187.1,665.9 L1189.0,666.4 L1190.9,667.0 L1192.9,667.5 L1194.8,668.1 L1196.7,668.7 L1198.6,669.4 L1200.5,670.0 L1202.3,670.6 L1204.2,671.3 L1206.1,672.0 L1208.0,672.6 L1209.8,673.3 L1211.7,674.1 L1213.5,674.8 L1215.4,675.5 L1217.2,676.3 L1219.0,677.1 L1220.9,677.9 L1222.7,678.7 L1224.5,679.5 L1226.3,680.4 L1228.0,681.3 L1229.8,682.2 L1231.6,683.1 L1233.3,684.0 L1235.1,684.9 L1236.8,685.9 L1238.5,686.9 L1240.3,687.9 L1242.0,688.9 L1243.7,690.0 L1245.3,691.0 L1247.0,692.1 L1248.7,693.2 L1250.4,694.3 L1252.0,695.4 L1253.7,696.5 L1255.3,697.6 L1257.0,698.8 L1258.6,699.9 L1260.3,701.1 L1261.9,702.3 L1263.5,703.5 L1265.2,704.6 L1266.8,705.8 L1268.4,707.0 L1270.0,708.2 L1271.6,709.5 L1273.2,710.7 L1274.9,711.9 L1276.5,713.1 L1278.1,714.3 L1279.7,715.5 L1281.3,716.7 L1282.9,718.0 L1284.6,719.2 L1286.2,720.4 L1287.8,721.6 L1289.4,722.8 L1291.0,724.0 L1292.7,725.2 L1294.3,726.4 L1296.0,727.5 L1297.6,728.7 L1299.2,729.9 L1300.9,731.0 L1302.6,732.2 L1304.2,733.3 L1305.9,734.4 L1307.6,735.5 L1309.3,736.6 L1311.0,737.7 L1312.7,738.7 L1314.4,739.8 L1316.1,740.8 L1317.9,741.8 L1319.6,742.8 L1321.3,743.8 L1323.1,744.8 L1324.9,745.7 L1326.6,746.7 L1328.4,747.6 L1330.2,748.5 L1332.0,749.4 L1333.8,750.2 L1335.6,751.1 L1337.4,751.9 L1339.2,752.7 L1341.1,753.5 L1342.9,754.2 L1344.8,755.0 L1346.6,755.7 L1348.5,756.4 L1350.3,757.1 L1352.2,757.7 L1354.1,758.4 L1356.0,759.0 L1357.9,759.6 L1359.8,760.1 L1361.7,760.7 L1363.6,761.2 L1365.5,761.7 L1367.5,762.2 L1369.4,762.6 L1371.3,763.1 L1373.3,763.5 L1375.2,763.9 L1377.2,764.3 L1379.2,764.6 L1381.1,765.0 L1383.1,765.3 L1385.1,765.6 L1387.0,765.9 L1389.0,766.2 L1391.0,766.5 L1393.0,766.8 L1395.0,767.0 L1397.0,767.3 L1398.9,767.5 L1400.9,767.8 L1402.9,768.0 L1404.9,768.2 L1406.9,768.4 L1408.9,768.7 L1410.9,768.9 L1412.9,769.1 L1414.9,769.3 L1416.9,769.5 L1418.9,769.7 L1420.9,769.9 L1422.9,770.0 L1424.9,770.2 L1426.9,770.4 L1428.9,770.6 L1430.9,770.8 L1432.9,770.9 L1434.9,771.1 L1436.9,771.3 L1438.9,771.5 L1440.9,771.6 L1442.9,771.8 L1444.8,771.9 L1446.8,772.1 L1448.8,772.2 L1450.8,772.4 L1452.8,772.5 L1454.8,772.7 L1456.8,772.8 L1458.8,773.0 L1460.8,773.1 L1462.8,773.3 L1464.8,773.4 L1466.8,773.5 L1468.8,773.7 L1470.8,773.8 L1472.8,773.9 L1474.8,774.1 L1476.8,774.2 L1478.8,774.3 L1480.8,774.4 L1482.8,774.6 L1484.8,774.7 L1486.8,774.8 L1488.8,774.9 L1490.8,775.0 L1492.8,775.2 L1494.7,775.3 L1496.7,775.4 L1498.7,775.5 L1500.7,775.6 L1502.7,775.7 L1504.7,775.8 L1506.7,775.9 L1508.7,776.1 L1510.7,776.2 L1512.7,776.3 L1514.7,776.4 L1516.7,776.5 L1518.7,776.6 L1520.7,776.7 L1522.7,776.8 L1524.7,776.9 L1526.7,777.0 L1528.7,777.1 L1530.7,777.2 L1532.7,777.3 L1534.7,777.4 L1536.7,777.6 L1538.7,777.7 L1540.7,777.8 L1542.6,777.9 L1544.6,778.0 L1546.6,778.1 L1548.6,778.2 L1550.6,778.3 L1552.6,778.4 L1554.6,778.5 L1556.6,778.6 L1558.6,778.8 L1560.6,778.9 L1562.6,779.0 L1564.6,779.1 L1566.6,779.2 L1568.6,779.3 L1570.6,779.4 L1572.6,779.6 L1574.6,779.7 L1576.6,779.8 L1578.6,779.9 L1580.6,780.0 L1582.6,780.2 L1584.6,780.3 L1586.5,780.4 L1588.5,780.5 L1590.5,780.7 L1592.5,780.8 L1594.5,780.9 L1596.5,781.0 L1598.5,781.2 L1600.5,781.3 L1602.5,781.4 L1604.5,781.5 L1606.5,781.7 L1608.5,781.8 L1610.5,781.9 L1612.5,782.1 L1614.5,782.2 L1616.5,782.3 L1618.5,782.5 L1620.5,782.6 L1622.5,782.7 L1624.5,782.9 L1626.4,783.0 L1628.4,783.1 L1630.4,783.3 L1632.4,783.4 L1634.4,783.5 L1636.4,783.7 L1638.4,783.8 L1640.4,783.9 L1642.4,784.1 L1644.4,784.2 L1646.4,784.3 L1648.4,784.5 L1650.4,784.6 L1652.4,784.8 L1654.4,784.9 L1656.4,785.0 L1658.4,785.2 L1660.4,785.3 L1662.4,785.5 L1664.4,785.6 L1666.3,785.7 L1668.3,785.9 L1670.3,786.0 L1672.3,786.2 L1674.3,786.3 L1676.3,786.4 L1678.3,786.6 L1680.3,786.7 L1682.3,786.9 L1684.3,787.0 L1686.3,787.2 L1688.3,787.3 L1690.3,787.4 L1692.3,787.6 L1694.3,787.7 L1696.3,787.9 L1698.3,788.0 L1700.3,788.1 L1702.3,788.3 L1704.3,788.4 L1706.3,788.6 L1708.2,788.7 L1710.2,788.8 L1712.2,789.0 L1714.2,789.1 L1716.2,789.3 L1718.2,789.4 L1720.2,789.6 L1722.2,789.7 L1724.2,789.8 L1726.2,790.0 L1728.2,790.1 L1730.2,790.3 L1732.2,790.4 L1734.2,790.5 L1736.2,790.7 L1738.2,790.8 L1740.2,790.9 L1742.2,791.1 L1744.2,791.2 L1746.2,791.4 L1748.2,791.5 L1750.1,791.6 L1752.1,791.8 L1754.1,791.9 L1756.1,792.0 L1758.1,792.2 L1760.1,792.3 L1762.1,792.4 L1764.1,792.6 L1766.1,792.7 L1768.1,792.9 L1770.1,793.0 L1772.1,793.1 L1774.1,793.2 L1776.1,793.4 L1778.1,793.5 L1780.1,793.6 L1782.1,793.8 L1784.1,793.9 L1786.1,794.0 L1788.1,794.2 L1790.1,794.3 L1792.1,794.4 L1794.1,794.5 L1796.1,794.7 L1798.1,794.8 L1800.1,794.9 L1802.0,795.0 L1804.0,795.2 L1806.0,795.3 L1808.0,795.4 L1810.0,795.5 L1812.0,795.6 L1814.0,795.8 L1816.0,795.9 L1818.0,796.0 L1820.0,796.1 L1822.0,796.2 L1824.0,796.3 L1826.0,796.5 L1828.0,796.6 L1830.0,796.7 L1832.0,796.8 L1834.0,796.9 L1836.0,797.0 L1838.0,797.1 L1840.0,797.2 L1842.0,797.3 L1844.0,797.5 L1846.0,797.6 L1848.0,797.7 L1850.0,797.8 L1852.0,797.9 L1854.0,798.0 L1856.0,798.1 L1858.0,798.2 L1860.0,798.3 L1862.0,798.4 L1864.0,798.5 L1866.0,798.6 L1868.0,798.7 L1870.0,798.8 L1872.0,798.8 L1874.0,798.9 L1875.9,799.0 L1877.9,799.1 L1879.9,799.2 L1881.9,799.3 L1883.9,799.4 L1885.9,799.5 L1887.9,799.5 L1889.9,799.6 L1891.9,799.7 L1893.9,799.8 L1895.9,799.9 L1897.9,799.9 L1899.9,800.0 L1901.9,800.1 L1903.9,800.2 L1905.9,800.2 L1907.9,800.3 L1909.9,800.4 L1911.9,800.4 L1913.9,800.5 L1915.9,800.6 L1917.9,800.6 L1919.9,800.7 L1921.9,800.8 L1923.9,800.8 L1925.9,800.9 L1927.9,801.0 L1929.9,801.0 L1931.9,801.1 L1933.9,801.1 L1935.9,801.2 L1937.9,801.2 L1939.9,801.3 L1941.9,801.4 L1943.9,801.4 L1945.9,801.5 L1947.9,801.5 L1949.9,801.6 L1951.9,801.6 L1953.9,801.7 L1955.9,801.7 L1957.9,801.8 L1959.9,801.8 L1961.9,801.9 L1963.9,801.9 L1965.9,802.0 L1967.9,802.0 L1969.9,802.1 L1971.9,802.1 L1973.9,802.2 L1975.9,802.2 L1977.9,802.3 L1979.9,802.3 L1981.9,802.4 L1983.9,802.4 L1985.9,802.5 L1987.9,802.5 L1989.9,802.6 L1991.9,802.6 L1993.9,802.6 L1995.9,802.7 L1997.9,802.7 L1999.9,802.8 L2001.9,802.8 L2003.9,802.9 L2005.9,802.9 L2007.9,803.0 L2009.9,803.0 L2011.9,803.1 L2013.9,803.1 L2015.9,803.2 L2017.9,803.2 L2019.9,803.3 L2021.9,803.3 L2023.9,803.4 L2025.9,803.5 L2027.9,803.5 L2029.9,803.6 L2031.9,803.6 L2033.9,803.7 L2035.9,803.7 L2037.9,803.8 L2039.9,803.8 L2041.9,803.9 L2043.9,804.0 L2045.9,804.0 L2047.9,804.1 L2049.9,804.1 L2051.9,804.2 L2053.9,804.3 L2055.9,804.3 L2057.9,804.4 L2059.9,804.5 L2061.9,804.5 L2063.9,804.6 L2065.9,804.7 L2067.9,804.8 L2069.9,804.8 L2071.9,804.9 L2073.9,805.0 L2075.9,805.1 L2077.9,805.1 L2079.9,805.2 L2081.9,805.3 L2083.9,805.4 L2085.9,805.5 L2087.9,805.5 L2089.9,805.6 L2091.9,805.7 L2093.9,805.8 L2095.9,805.9 L2097.9,806.0 L2099.9,806.1 L2101.9,806.2 L2103.9,806.3 L2105.9,806.4 L2107.8,806.5 L2109.8,806.6 L2111.8,806.7 L2113.8,806.8 L2115.8,806.9 L2117.8,807.0 L2119.8,807.1 L2121.8,807.2 L2123.8,807.4 L2125.8,807.5 L2127.8,807.6 L2129.8,807.7 L2131.8,807.9 L2133.8,808.0 L2135.8,808.1 L2137.8,808.2 L2139.8,808.4 L2141.8,808.5 L2143.8,808.6 L2145.8,808.8 L2147.8,808.9 L2149.7,809.1 L2151.7,809.2 L2153.7,809.4 L2155.7,809.5 L2157.7,809.7 L2159.7,809.8 L2161.7,810.0 L2163.7,810.2 L2165.7,810.3 L2167.7,810.5 L2169.7,810.7 L2171.7,810.8 L2173.7,811.0 L2175.6,811.2 L2177.6,811.4 L2179.6,811.6 L2181.6,811.7 L2183.6,811.9 L2185.6,812.1 L2187.6,812.3 L2189.6,812.5 L2191.6,812.7 L2193.6,812.9 L2195.6,813.1 L2197.5,813.3 L2199.5,813.6 L2201.5,813.8 L2203.5,814.0 L2205.5,814.2 L2207.5,814.4 L2209.5,814.7 L2211.5,814.9 L2213.4,815.1 L2215.4,815.4 L2217.4,815.6 L2219.4,815.9 L2221.4,816.1 L2223.4,816.4 L2225.4,816.6 L2227.4,816.9 L2229.3,817.2 L2231.3,817.4 L2233.3,817.7 L2235.0,817.9" stroke="#0000ff" stroke-width="11.0"/>
<path d="M343.7,163.1 L345.6,162.7 L347.5,162.2 L349.4,161.8 L351.4,161.5 L353.3,161.1 L355.2,160.8 L357.2,160.5 L359.1,160.2 L361.1,159.9 L363.1,159.7 L365.0,159.5 L367.0,159.3 L369.0,159.2 L371.0,159.1 L372.9,159.0 L374.9,158.9 L376.9,158.8 L378.9,158.8 L380.9,158.8 L382.9,158.8 L384.9,158.8 L386.9,158.9 L388.9,159.0 L390.9,159.1 L392.9,159.2 L394.9,159.4 L396.9,159.5 L398.9,159.7 L400.9,160.0 L402.8,160.2 L404.8,160.5 L406.8,160.8 L408.8,161.1 L410.8,161.4 L412.8,161.7 L414.8,162.1 L416.7,162.5 L418.7,162.9 L420.7,163.4 L422.7,163.8 L424.6,164.3 L426.6,164.8 L428.5,165.3 L430.5,165.9 L432.4,166.4 L434.4,167.0 L436.3,167.6 L438.2,168.3 L440.1,168.9 L442.1,169.6 L444.0,170.2 L445.9,171.0 L447.7,171.7 L449.6,172.4 L451.5,173.2 L453.4,174.0 L455.2,174.8 L457.1,175.6 L458.9,176.4 L460.7,177.3 L462.6,178.1 L464.4,179.0 L466.2,179.9 L468.0,180.9 L469.7,181.8 L471.5,182.8 L473.3,183.8 L475.0,184.8 L476.7,185.8 L478.5,186.8 L480.2,187.9 L481.9,188.9 L483.5,190.0 L485.2,191.1 L486.9,192.2 L488.5,193.4 L490.1,194.5 L491.7,195.7 L493.3,196.9 L494.9,198.1 L496.5,199.3 L498.0,200.5 L499.6,201.8 L501.1,203.0 L502.6,204.3 L504.1,205.6 L505.6,206.9 L507.0,208.2 L508.5,209.6 L509.9,210.9 L511.4,212.3 L512.8,213.7 L514.2,215.0 L515.6,216.4 L516.9,217.9 L518.3,219.3 L519.6,220.7 L521.0,222.2 L522.3,223.6 L523.6,225.1 L524.9,226.6 L526.2,228.1 L527.5,229.6 L528.8,231.1 L530.0,232.7 L531.3,234.2 L532.5,235.8 L533.7,237.3 L534.9,238.9 L536.1,240.5 L537.3,242.1 L538.5,243.7 L539.7,245.3 L540.8,246.9 L542.0,248.6 L543.1,250.2 L544.3,251.9 L545.4,253.5 L546.5,255.2 L547.6,256.8 L548.7,258.5 L549.8,260.2 L550.8,261.9 L551.9,263.6 L553.0,265.3 L554.0,267.0 L555.1,268.7 L556.1,270.5 L557.1,272.2 L558.1,273.9 L559.2,275.7 L560.2,277.4 L561.2,279.2 L562.1,280.9 L563.1,282.7 L564.1,284.5 L565.1,286.2 L566.0,288.0 L567.0,289.8 L567.9,291.6 L568.9,293.4 L569.8,295.1 L570.8,296.9 L571.7,298.7 L572.6,300.5 L573.5,302.3 L574.4,304.1 L575.3,305.9 L576.2,307.7 L577.1,309.5 L578.0,311.4 L578.9,313.2 L579.8,315.0 L580.6,316.8 L581.5,318.6 L582.4,320.4 L583.2,322.2 L584.1,324.0 L585.0,325.8 L585.8,327.7 L586.7,329.5 L587.5,331.3 L588.4,333.1 L589.2,334.9 L590.0,336.7 L590.9,338.5 L591.7,340.3 L592.6,342.1 L593.4,343.9 L594.2,345.7 L595.1,347.5 L595.9,349.3 L596.8,351.1 L597.7,352.9 L598.5,354.7 L599.4,356.4 L600.3,358.2 L601.2,360.0 L602.1,361.8 L603.0,363.5 L603.9,365.3 L604.8,367.1 L605.8,368.9 L606.8,370.6 L607.7,372.4 L608.7,374.1 L609.7,375.9 L610.8,377.6 L611.9,379.3 L613.0,380.9 L614.2,382.5 L615.5,384.0 L616.8,385.5 L618.3,386.8 L619.8,388.1 L621.3,389.4 L622.9,390.5 L624.6,391.6 L626.3,392.7 L628.0,393.7 L629.8,394.6 L631.6,395.5 L633.5,396.3 L635.3,397.1 L637.2,397.9 L639.0,398.7 L640.9,399.5 L642.8,400.2 L644.6,400.9 L646.5,401.6 L648.4,402.3 L650.3,403.0 L652.2,403.6 L654.1,404.2 L656.0,404.8 L657.9,405.4 L659.8,406.0 L661.7,406.6 L663.6,407.1 L665.5,407.6 L667.4,408.2 L669.4,408.7 L671.3,409.2 L673.2,409.6 L675.2,410.1 L677.1,410.6 L679.0,411.0 L681.0,411.4 L682.9,411.9 L684.9,412.3 L686.8,412.7 L688.8,413.1 L690.8,413.5 L692.7,413.9 L694.7,414.2 L696.6,414.6 L698.6,415.0 L700.6,415.3 L702.6,415.7 L704.5,416.0 L706.5,416.3 L708.5,416.7 L710.5,417.0 L712.4,417.3 L714.4,417.6 L716.4,417.9 L718.4,418.2 L720.4,418.5 L722.4,418.8 L724.4,419.1 L726.4,419.3 L728.4,419.6 L730.4,419.8 L732.4,420.1 L734.3,420.4 L736.3,420.6 L738.3,420.8 L740.3,421.1 L742.3,421.3 L744.3,421.5 L746.3,421.7 L748.3,422.0 L750.3,422.2 L752.3,422.4 L754.4,422.6 L756.4,422.8 L758.4,423.0 L760.4,423.2 L762.4,423.3 L764.4,423.5 L766.4,423.7 L768.4,423.9 L770.4,424.1 L772.4,424.2 L774.4,424.4 L776.4,424.6 L778.4,424.7 L780.4,424.9 L782.4,425.0 L784.4,425.2 L786.3,425.3 L788.3,425.5 L790.3,425.6 L792.3,425.8 L794.3,425.9 L796.3,426.1 L798.3,426.2 L800.3,426.3 L802.3,426.5 L804.3,426.6 L806.3,426.7 L808.3,426.8 L810.3,426.9 L812.3,427.1 L814.3,427.2 L816.2,427.3 L818.2,427.4 L820.2,427.5 L822.2,427.6 L824.2,427.7 L826.2,427.8 L828.2,427.9 L830.2,428.0 L832.2,428.1 L834.2,428.2 L836.1,428.3 L838.1,428.4 L840.1,428.5 L842.1,428.6 L844.1,428.6 L846.1,428.7 L848.1,428.8 L850.1,428.9 L852.0,429.0 L854.0,429.0 L856.0,429.1 L858.0,429.2 L860.0,429.3 L862.0,429.3 L864.0,429.4 L865.9,429.5 L867.9,429.5 L869.9,429.6 L871.9,429.6 L873.9,429.7 L875.9,429.8 L877.9,429.8 L879.8,429.9 L881.8,429.9 L883.8,430.0 L885.8,430.0 L887.8,430.1 L889.8,430.1 L891.8,430.2 L893.7,430.2 L895.7,430.3 L897.7,430.3 L899.7,430.4 L901.7,430.4 L903.7,430.5 L905.7,430.5 L907.7,430.6 L909.6,430.6 L911.6,430.6 L913.6,430.7 L915.6,430.7 L917.6,430.8 L919.6,430.8 L921.6,430.8 L923.6,430.9 L925.6,430.9 L927.5,431.0 L929.5,431.0 L931.5,431.0 L933.5,431.1 L935.5,431.1 L937.5,431.1 L939.5,431.2 L941.5,431.2 L943.5,431.2 L945.5,431.3 L947.4,431.3 L949.4,431.3 L951.4,431.4 L953.4,431.4 L955.4,431.4 L957.4,431.5 L959.4,431.5 L961.4,431.6 L963.4,431.6 L965.4,431.6 L967.4,431.7 L969.4,431.7 L971.4,431.7 L973.4,431.8 L975.4,431.8 L977.4,431.8 L979.4,431.9 L981.4,431.9 L983.4,432.0 L985.4,432.0 L987.4,432.0 L989.4,432.1 L991.4,432.1 L993.4,432.2 L995.4,432.2 L997.4,432.2 L999.4,432.3 L1001.4,432.3 L1003.4,432.4 L1005.4,432.4 L1007.4,432.5 L1009.4,432.5 L1011.4,432.6 L1013.5,432.6 L1015.5,432.7 L1017.5,432.7 L1019.5,432.8 L1021.5,432.8 L1023.5,432.9 L1025.5,432.9 L1027.5,433.0 L1029.6,433.1 L1031.6,433.1 L1033.6,433.2 L1035.6,433.2 L1037.6,433.3 L1039.6,433.4 L1041.7,433.4 L1043.7,433.5 L1045.7,433.6 L1047.7,433.6 L1049.7,433.7 L1051.8,433.8 L1053.8,433.9 L1055.8,434.0 L1057.8,434.0 L1059.9,434.1 L1061.9,434.2 L1063.9,434.3 L1066.0,434.4 L1068.0,434.5 L1070.0,434.6 L1072.1,434.7 L1074.1,434.8 L1076.1,434.9 L1078.1,435.0 L1080.2,435.1 L1082.2,435.2 L1084.2,435.3 L1086.3,435.4 L1088.3,435.6 L1090.3,435.7 L1092.3,435.9 L1094.4,436.0 L1096.4,436.2 L1098.4,436.3 L1100.4,436.5 L1102.5,436.7 L1104.5,436.9 L1106.5,437.0 L1108.5,437.2 L1110.5,437.5 L1112.5,437.7 L1114.5,437.9 L1116.5,438.1 L1118.5,438.4 L1120.5,438.6 L1122.5,438.9 L1124.5,439.2 L1126.5,439.4 L1128.5,439.7 L1130.5,440.0 L1132.4,440.4 L1134.4,440.7 L1136.4,441.0 L1138.3,441.4 L1140.3,441.7 L1142.3,442.1 L1144.2,442.5 L1146.1,442.9 L1148.1,443.3 L1150.0,443.8 L1152.0,444.2 L1153.9,444.7 L1155.8,445.1 L1157.7,445.6 L1159.6,446.1 L1161.5,446.6 L1163.4,447.2 L1165.3,447.7 L1167.2,448.3 L1169.1,448.9 L1170.9,449.5 L1172.8,450.1 L1174.7,450.7 L1176.5,451.4 L1178.4,452.0 L1180.2,452.7 L1182.0,453.4 L1183.9,454.1 L1185.7,454.9 L1187.5,455.6 L1189.3,456.4 L1191.1,457.2 L1192.9,458.0 L1194.6,458.9 L1196.4,459.7 L1198.2,460.6 L1199.9,461.5 L1201.7,462.4 L1203.4,463.3 L1205.1,464.3 L1206.8,465.2 L1208.6,466.2 L1210.3,467.2 L1211.9,468.2 L1213.6,469.2 L1215.3,470.3 L1217.0,471.3 L1218.6,472.4 L1220.3,473.5 L1221.9,474.6 L1223.5,475.8 L1225.2,476.9 L1226.8,478.1 L1228.4,479.3 L1230.0,480.4 L1231.5,481.7 L1233.1,482.9 L1234.7,484.1 L1236.2,485.4 L1237.8,486.7 L1239.3,488.0 L1240.8,489.3 L1242.3,490.6 L1243.8,491.9 L1245.3,493.3 L1246.8,494.6 L1248.3,496.0 L1249.8,497.4 L1251.2,498.8 L1252.6,500.2 L1254.1,501.7 L1255.5,503.1 L1256.9,504.6 L1258.3,506.1 L1259.7,507.6 L1261.1,509.1 L1262.4,510.6 L1263.8,512.2 L1265.1,513.7 L1266.4,515.3 L1267.8,516.8 L1269.1,518.4 L1270.4,520.0 L1271.7,521.6 L1273.0,523.2 L1274.3,524.8 L1275.6,526.4 L1276.9,528.0 L1278.2,529.6 L1279.4,531.2 L1280.7,532.8 L1282.0,534.5 L1283.2,536.1 L1284.5,537.7 L1285.8,539.3 L1287.1,540.9 L1288.3,542.5 L1289.6,544.1 L1290.9,545.7 L1292.2,547.3 L1293.4,548.9 L1294.7,550.5 L1296.0,552.1 L1297.3,553.6 L1298.6,555.2 L1299.9,556.7 L1301.2,558.2 L1302.6,559.7 L1303.9,561.2 L1305.2,562.7 L1306.6,564.2 L1308.0,565.6 L1309.3,567.0 L1310.7,568.5 L1312.1,569.9 L1313.5,571.2 L1314.9,572.6 L1316.4,573.9 L1317.8,575.2 L1319.3,576.5 L1320.7,577.8 L1322.2,579.0 L1323.7,580.2 L1325.3,581.4 L1326.8,582.5 L1328.4,583.7 L1330.0,584.8 L1331.6,585.8 L1333.2,586.9 L1334.8,587.9 L1336.5,588.8 L1338.2,589.8 L1339.9,590.7 L1341.6,591.6 L1343.3,592.4 L1345.1,593.2 L1346.9,594.0 L1348.7,594.8 L1350.5,595.5 L1352.3,596.2 L1354.1,596.9 L1356.0,597.6 L1357.9,598.2 L1359.8,598.8 L1361.7,599.4 L1363.6,599.9 L1365.5,600.5 L1367.4,601.0 L1369.4,601.5 L1371.3,602.0 L1373.3,602.4 L1375.3,602.9 L1377.2,603.3 L1379.2,603.7 L1381.2,604.1 L1383.2,604.5 L1385.2,604.9 L1387.3,605.2 L1389.3,605.6 L1391.3,605.9 L1393.3,606.2 L1395.4,606.5 L1397.4,606.8 L1399.4,607.1 L1401.5,607.4 L1403.5,607.7 L1405.5,607.9 L1407.6,608.2 L1409.6,608.5 L1411.6,608.7 L1413.7,609.0 L1415.7,609.2 L1417.7,609.4 L1419.7,609.7 L1421.8,609.9 L1423.8,610.1 L1425.8,610.3 L1427.8,610.6 L1429.8,610.8 L1431.8,611.0 L1433.8,611.2 L1435.9,611.4 L1437.9,611.6 L1439.9,611.8 L1441.9,612.0 L1443.9,612.2 L1445.9,612.3 L1447.9,612.5 L1449.9,612.7 L1451.9,612.9 L1453.9,613.1 L1455.9,613.2 L1457.9,613.4 L1459.9,613.6 L1461.9,613.7 L1463.9,613.9 L1465.8,614.0 L1467.8,614.2 L1469.8,614.4 L1471.8,614.5 L1473.8,614.7 L1475.8,614.8 L1477.8,615.0 L1479.8,615.1 L1481.7,615.2 L1483.7,615.4 L1485.7,615.5 L1487.7,615.7 L1489.7,615.8 L1491.7,615.9 L1493.6,616.1 L1495.6,616.2 L1497.6,616.3 L1499.6,616.5 L1501.5,616.6 L1503.5,616.7 L1505.5,616.9 L1507.5,617.0 L1509.5,617.1 L1511.4,617.2 L1513.4,617.4 L1515.4,617.5 L1517.4,617.6 L1519.3,617.8 L1521.3,617.9 L1523.3,618.0 L1525.3,618.1 L1527.2,618.3 L1529.2,618.4 L1531.2,618.5 L1533.2,618.6 L1535.1,618.8 L1537.1,618.9 L1539.1,619.0 L1541.1,619.2 L1543.0,619.3 L1545.0,619.4 L1547.0,619.6 L1549.0,619.7 L1551.0,619.8 L1552.9,620.0 L1554.9,620.1 L1556.9,620.3 L1558.9,620.4 L1560.8,620.5 L1562.8,620.7 L1564.8,620.8 L1566.8,621.0 L1568.8,621.1 L1570.8,621.3 L1572.7,621.4 L1574.7,621.6 L1576.7,621.7 L1578.7,621.9 L1580.7,622.1 L1582.7,622.2 L1584.7,622.4 L1586.6,622.5 L1588.6,622.7 L1590.6,622.9 L1592.6,623.0 L1594.6,623.2 L1596.6,623.4 L1598.6,623.5 L1600.6,623.7 L1602.6,623.9 L1604.6,624.1 L1606.5,624.2 L1608.5,624.4 L1610.5,624.6 L1612.5,624.8 L1614.5,624.9 L1616.5,625.1 L1618.5,625.3 L1620.5,625.5 L1622.5,625.6 L1624.5,625.8 L1626.5,626.0 L1628.5,626.2 L1630.5,626.4 L1632.5,626.5 L1634.5,626.7 L1636.5,626.9 L1638.5,627.1 L1640.5,627.3 L1642.5,627.5 L1644.5,627.6 L1646.5,627.8 L1648.5,628.0 L1650.5,628.2 L1652.4,628.4 L1654.4,628.6 L1656.4,628.7 L1658.4,628.9 L1660.4,629.1 L1662.4,629.3 L1664.4,629.5 L1666.4,629.7 L1668.4,629.8 L1670.4,630.0 L1672.4,630.2 L1674.4,630.4 L1676.4,630.6 L1678.4,630.8 L1680.4,630.9 L1682.4,631.1 L1684.5,631.3 L1686.5,631.5 L1688.5,631.7 L1690.5,631.8 L1692.5,632.0 L1694.5,632.2 L1696.5,632.4 L1698.5,632.5 L1700.5,632.7 L1702.5,632.9 L1704.5,633.1 L1706.5,633.2 L1708.5,633.4 L1710.5,633.6 L1712.5,633.8 L1714.5,633.9 L1716.5,634.1 L1718.5,634.3 L1720.5,634.4 L1722.5,634.6 L1724.5,634.8 L1726.5,634.9 L1728.5,635.1 L1730.5,635.2 L1732.5,635.4 L1734.5,635.6 L1736.5,635.7 L1738.5,635.9 L1740.5,636.0 L1742.5,636.2 L1744.5,636.3 L1746.5,636.5 L1748.5,636.6 L1750.5,636.8 L1752.5,636.9 L1754.5,637.0 L1756.5,637.2 L1758.5,637.3 L1760.5,637.5 L1762.5,637.6 L1764.5,637.7 L1766.4,637.9 L1768.4,638.0 L1770.4,638.1 L1772.4,638.3 L1774.4,638.4 L1776.4,638.5 L1778.4,638.6 L1780.4,638.8 L1782.4,638.9 L1784.4,639.0 L1786.4,639.1 L1788.4,639.2 L1790.4,639.4 L1792.4,639.5 L1794.4,639.6 L1796.4,639.7 L1798.4,639.8 L1800.4,639.9 L1802.4,640.0 L1804.4,640.1 L1806.4,640.2 L1808.4,640.4 L1810.3,640.5 L1812.3,640.6 L1814.3,640.7 L1816.3,640.8 L1818.3,640.9 L1820.3,641.0 L1822.3,641.1 L1824.3,641.2 L1826.3,641.3 L1828.3,641.4 L1830.3,641.5 L1832.3,641.5 L1834.3,641.6 L1836.3,641.7 L1838.3,641.8 L1840.3,641.9 L1842.3,642.0 L1844.2,642.1 L1846.2,642.2 L1848.2,642.3 L1850.2,642.3 L1852.2,642.4 L1854.2,642.5 L1856.2,642.6 L1858.2,642.7 L1860.2,642.8 L1862.2,642.9 L1864.2,642.9 L1866.2,643.0 L1868.2,643.1 L1870.2,643.2 L1872.2,643.3 L1874.2,643.3 L1876.2,643.4 L1878.1,643.5 L1880.1,643.6 L1882.1,643.6 L1884.1,643.7 L1886.1,643.8 L1888.1,643.9 L1890.1,643.9 L1892.1,644.0 L1894.1,644.1 L1896.1,644.2 L1898.1,644.2 L1900.1,644.3 L1902.1,644.4 L1904.1,644.5 L1906.1,644.5 L1908.1,644.6 L1910.1,644.7 L1912.1,644.7 L1914.1,644.8 L1916.1,644.9 L1918.1,644.9 L1920.1,645.0 L1922.1,645.1 L1924.1,645.2 L1926.1,645.2 L1928.1,645.3 L1930.1,645.4 L1932.1,645.4 L1934.1,645.5 L1936.0,645.6 L1938.0,645.6 L1940.0,645.7 L1942.0,645.8 L1944.0,645.9 L1946.0,645.9 L1948.0,646.0 L1950.0,646.1 L1952.0,646.1 L1954.0,646.2 L1956.0,646.3 L1958.0,646.3 L1960.0,646.4 L1962.0,646.5 L1964.0,646.5 L1966.0,646.6 L1968.0,646.7 L1970.0,646.8 L1972.0,646.8 L1974.0,646.9 L1976.0,647.0 L1978.0,647.0 L1980.0,647.1 L1982.0,647.2 L1984.0,647.3 L1986.0,647.3 L1988.0,647.4 L1990.0,647.5 L1992.0,647.5 L1994.0,647.6 L1996.0,647.7 L1998.0,647.8 L2000.0,647.8 L2002.0,647.9 L2004.0,648.0 L2006.0,648.1 L2008.0,648.1 L2010.0,648.2 L2012.0,648.3 L2014.0,648.4 L2016.0,648.5 L2018.0,648.5 L2020.0,648.6 L2022.0,648.7 L2024.0,648.8 L2026.0,648.9 L2028.0,648.9 L2030.0,649.0 L2032.0,649.1 L2034.0,649.2 L2036.0,649.3 L2038.0,649.4 L2040.0,649.5 L2042.0,649.5 L2044.0,649.6 L2046.0,649.7 L2048.0,649.8 L2050.0,649.9 L2052.0,650.0 L2054.0,650.1 L2056.0,650.2 L2058.0,650.3 L2060.0,650.4 L2062.0,650.5 L2064.0,650.6 L2066.0,650.7 L2068.0,650.8 L2070.0,650.9 L2072.0,651.0 L2074.0,651.1 L2076.0,651.2 L2078.0,651.3 L2080.0,651.4 L2082.0,651.5 L2084.0,651.6 L2086.0,651.7 L2088.0,651.8 L2090.0,651.9 L2092.0,652.0 L2094.0,652.1 L2096.0,652.2 L2098.0,652.3 L2100.0,652.5 L2102.0,652.6 L2104.0,652.7 L2106.0,652.8 L2108.0,652.9 L2110.0,653.1 L2112.0,653.2 L2114.0,653.3 L2116.0,653.4 L2118.0,653.6 L2120.0,653.7 L2122.0,653.8 L2124.0,653.9 L2126.0,654.1 L2128.0,654.2 L2129.9,654.3 L2131.9,654.5 L2133.9,654.6 L2135.9,654.8 L2137.9,654.9 L2139.9,655.0 L2141.9,655.2 L2143.9,655.3 L2145.9,655.5 L2147.9,655.6 L2149.9,655.8 L2151.9,655.9 L2153.9,656.1 L2155.9,656.2 L2157.9,656.4 L2159.9,656.5 L2161.9,656.7 L2163.8,656.9 L2165.8,657.0 L2167.8,657.2 L2169.8,657.3 L2171.8,657.5 L2173.8,657.7 L2175.8,657.9 L2177.8,658.0 L2179.8,658.2 L2181.8,658.4 L2183.8,658.6 L2185.8,658.7 L2187.7,658.9 L2189.7,659.1 L2191.7,659.3 L2193.7,659.5 L2195.7,659.7 L2197.7,659.9 L2199.7,660.0 L2201.7,660.2 L2203.7,660.4 L2205.7,660.6 L2207.6,660.8 L2209.6,661.0 L2211.6,661.2 L2213.6,661.5 L2215.6,661.7 L2217.6,661.9 L2219.6,662.1 L2221.5,662.3 L2223.5,662.5 L2225.5,662.7 L2227.5,663.0 L2229.5,663.2 L2231.5,663.4 L2233.5,663.6 L2235.0,663.8" stroke="#008000" stroke-width="11.0"/>
<path d="M343.6,163.1 L345.6,162.6 L347.5,162.1 L349.4,161.6 L351.3,161.2 L353.2,160.8 L355.2,160.4 L357.1,160.0 L359.1,159.7 L361.0,159.4 L363.0,159.1 L364.9,158.9 L366.9,158.7 L368.9,158.5 L370.8,158.3 L372.8,158.2 L374.8,158.1 L376.8,158.0 L378.7,157.9 L380.7,157.9 L382.7,157.9 L384.7,157.9 L386.7,157.9 L388.7,158.0 L390.7,158.1 L392.7,158.2 L394.6,158.4 L396.6,158.5 L398.6,158.7 L400.6,158.9 L402.6,159.2 L404.6,159.4 L406.6,159.7 L408.6,160.0 L410.5,160.3 L412.5,160.7 L414.5,161.1 L416.5,161.5 L418.5,161.9 L420.4,162.3 L422.4,162.8 L424.4,163.3 L426.3,163.8 L428.3,164.3 L430.2,164.9 L432.2,165.4 L434.1,166.0 L436.0,166.6 L438.0,167.3 L439.9,167.9 L441.8,168.6 L443.7,169.3 L445.6,170.0 L447.5,170.7 L449.4,171.5 L451.3,172.2 L453.2,173.0 L455.0,173.8 L456.9,174.6 L458.7,175.5 L460.6,176.3 L462.4,177.2 L464.2,178.1 L466.0,179.0 L467.8,179.9 L469.6,180.9 L471.4,181.8 L473.2,182.8 L475.0,183.8 L476.7,184.8 L478.4,185.8 L480.2,186.9 L481.9,187.9 L483.6,189.0 L485.3,190.1 L487.0,191.2 L488.6,192.3 L490.3,193.5 L491.9,194.6 L493.5,195.8 L495.1,196.9 L496.7,198.1 L498.3,199.3 L499.9,200.6 L501.4,201.8 L503.0,203.0 L504.5,204.3 L506.0,205.6 L507.5,206.8 L509.0,208.1 L510.5,209.4 L512.0,210.8 L513.4,212.1 L514.9,213.4 L516.3,214.8 L517.7,216.2 L519.1,217.6 L520.5,218.9 L521.9,220.4 L523.2,221.8 L524.6,223.2 L525.9,224.6 L527.2,226.1 L528.6,227.5 L529.9,229.0 L531.2,230.5 L532.4,232.0 L533.7,233.5 L535.0,235.0 L536.2,236.5 L537.5,238.1 L538.7,239.6 L539.9,241.2 L541.1,242.7 L542.3,244.3 L543.5,245.9 L544.7,247.5 L545.8,249.1 L547.0,250.7 L548.1,252.3 L549.3,253.9 L550.4,255.5 L551.5,257.2 L552.6,258.8 L553.7,260.5 L554.8,262.2 L555.8,263.8 L556.9,265.5 L558.0,267.2 L559.0,268.9 L560.1,270.6 L561.1,272.3 L562.1,274.0 L563.1,275.7 L564.1,277.5 L565.1,279.2 L566.1,280.9 L567.1,282.7 L568.1,284.4 L569.0,286.2 L570.0,288.0 L570.9,289.7 L571.9,291.5 L572.8,293.3 L573.7,295.1 L574.6,296.9 L575.5,298.7 L576.4,300.5 L577.3,302.3 L578.2,304.1 L579.1,305.9 L580.0,307.7 L580.8,309.5 L581.7,311.4 L582.5,313.2 L583.4,315.0 L584.2,316.9 L585.0,318.7 L585.9,320.6 L586.7,322.4 L587.5,324.2 L588.3,326.1 L589.1,328.0 L589.9,329.8 L590.7,331.7 L591.5,333.5 L592.3,335.4 L593.0,337.3 L593.8,339.1 L594.6,341.0 L595.3,342.9 L596.1,344.7 L596.8,346.6 L597.6,348.5 L598.3,350.4 L599.0,352.2 L599.8,354.1 L600.5,356.0 L601.2,357.9 L601.9,359.8 L602.7,361.6 L603.4,363.5 L604.1,365.4 L604.8,367.3 L605.5,369.2 L606.2,371.1 L606.8,372.9 L607.5,374.8 L608.2,376.7 L608.9,378.6 L609.5,380.5 L610.2,382.4 L610.9,384.3 L611.5,386.1 L612.2,388.0 L612.9,389.9 L613.5,391.8 L614.2,393.7 L614.8,395.6 L615.4,397.5 L616.1,399.4 L616.7,401.3 L617.3,403.2 L618.0,405.1 L618.6,407.0 L619.2,408.9 L619.8,410.8 L620.4,412.7 L621.1,414.6 L621.7,416.5 L622.3,418.4 L622.9,420.3 L623.5,422.2 L624.1,424.1 L624.7,426.0 L625.3,427.9 L625.9,429.8 L626.5,431.7 L627.0,433.6 L627.6,435.5 L628.2,437.4 L628.8,439.3 L629.4,441.2 L630.0,443.1 L630.5,445.0 L631.1,447.0 L631.7,448.9 L632.3,450.8 L632.8,452.7 L633.4,454.6 L634.0,456.5 L634.5,458.4 L635.1,460.3 L635.6,462.2 L636.2,464.2 L636.8,466.1 L637.3,468.0 L637.9,469.9 L638.4,471.8 L639.0,473.7 L639.5,475.6 L640.1,477.6 L640.6,479.5 L641.2,481.4 L641.7,483.3 L642.3,485.2 L642.8,487.1 L643.4,489.1 L643.9,491.0 L644.5,492.9 L645.0,494.8 L645.6,496.7 L646.1,498.7 L646.6,500.6 L647.2,502.5 L647.7,504.4 L648.3,506.3 L648.8,508.3 L649.4,510.2 L649.9,512.1 L650.5,514.0 L651.0,515.9 L651.5,517.9 L652.1,519.8 L652.6,521.7 L653.2,523.6 L653.7,525.5 L654.3,527.5 L654.8,529.4 L655.4,531.3 L655.9,533.2 L656.4,535.2 L657.0,537.1 L657.5,539.0 L658.1,540.9 L658.6,542.9 L659.2,544.8 L659.7,546.7 L660.3,548.6 L660.9,550.6 L661.4,552.5 L662.0,554.4 L662.5,556.3 L663.1,558.3 L663.6,560.2 L664.2,562.1 L664.8,564.0 L665.3,566.0 L665.9,567.9 L666.5,569.8 L667.0,571.7 L667.6,573.7 L668.1,575.6 L668.7,577.5 L669.3,579.4 L669.8,581.4 L670.4,583.3 L671.0,585.2 L671.5,587.1 L672.1,589.1 L672.7,591.0 L673.2,592.9 L673.8,594.9 L674.4,596.8 L674.9,598.7 L675.5,600.6 L676.1,602.6 L676.6,604.5 L677.2,606.4 L677.8,608.3 L678.3,610.3 L678.9,612.2 L679.5,614.1 L680.0,616.1 L680.6,618.0 L681.1,619.9 L681.7,621.9 L682.3,623.8 L682.8,625.7 L683.4,627.6 L683.9,629.6 L684.5,631.5 L685.0,633.4 L685.6,635.4 L686.1,637.3 L686.7,639.2 L687.2,641.2 L687.8,643.1 L688.3,645.0 L688.8,646.9 L689.4,648.9 L689.9,650.8 L690.5,652.7 L691.0,654.7 L691.5,656.6 L692.1,658.5 L692.6,660.5 L693.1,662.4 L693.6,664.3 L694.2,666.3 L694.7,668.2 L695.2,670.1 L695.7,672.1 L696.2,674.0 L696.7,675.9 L697.2,677.9 L697.7,679.8 L698.2,681.7 L698.7,683.7 L699.2,685.6 L699.7,687.5 L700.2,689.5 L700.7,691.4 L701.2,693.3 L701.7,695.3 L702.2,697.2 L702.7,699.1 L703.2,701.1 L703.8,703.0 L704.3,704.9 L704.9,706.8 L705.5,708.7 L706.2,710.5 L706.8,712.4 L707.6,714.2 L708.3,716.1 L709.2,717.9 L710.0,719.7 L710.9,721.5 L711.9,723.2 L713.0,724.9 L714.1,726.6 L715.2,728.2 L716.5,729.8 L717.9,731.2 L719.3,732.6 L720.8,733.9 L722.4,735.0 L724.1,736.1 L725.8,737.1 L727.6,738.1 L729.4,738.9 L731.2,739.7 L733.1,740.4 L735.0,741.0 L737.0,741.6 L738.9,742.1 L740.9,742.5 L742.9,743.0 L744.9,743.3 L746.9,743.7 L748.9,744.0 L750.9,744.3 L752.9,744.6 L754.9,744.8 L756.9,745.0 L758.9,745.2 L760.8,745.4 L762.8,745.6 L764.8,745.8 L766.8,746.0 L768.8,746.1 L770.8,746.3 L772.8,746.4 L774.7,746.5 L776.7,746.7 L778.7,746.8 L780.7,746.9 L782.7,747.0 L784.7,747.2 L786.7,747.3 L788.6,747.4 L790.6,747.5 L792.6,747.6 L794.6,747.7 L796.6,747.8 L798.6,747.9 L800.6,748.0 L802.6,748.1 L804.6,748.2 L806.6,748.3 L808.6,748.4 L810.6,748.5 L812.6,748.6 L814.5,748.7 L816.5,748.7 L818.5,748.8 L820.5,748.9 L822.5,749.0 L824.5,749.0 L826.5,749.1 L828.5,749.2 L830.5,749.2 L832.5,749.3 L834.5,749.4 L836.5,749.4 L838.5,749.5 L840.5,749.5 L842.5,749.6 L844.5,749.6 L846.5,749.7 L848.5,749.7 L850.5,749.8 L852.5,749.8 L854.5,749.9 L856.5,749.9 L858.5,750.0 L860.5,750.0 L862.5,750.0 L864.5,750.1 L866.5,750.1 L868.5,750.1 L870.5,750.2 L872.5,750.2 L874.6,750.2 L876.6,750.3 L878.6,750.3 L880.6,750.3 L882.6,750.4 L884.6,750.4 L886.6,750.4 L888.6,750.4 L890.6,750.5 L892.6,750.5 L894.6,750.5 L896.6,750.5 L898.6,750.5 L900.6,750.6 L902.6,750.6 L904.6,750.6 L906.6,750.6 L908.6,750.6 L910.6,750.6 L912.6,750.6 L914.6,750.7 L916.7,750.7 L918.7,750.7 L920.7,750.7 L922.7,750.7 L924.7,750.7 L926.7,750.7 L928.7,750.8 L930.7,750.8 L932.7,750.8 L934.7,750.8 L936.7,750.8 L938.7,750.8 L940.7,750.8 L942.7,750.8 L944.7,750.8 L946.7,750.9 L948.7,750.9 L950.7,750.9 L952.7,750.9 L954.7,750.9 L956.7,750.9 L958.7,750.9 L960.7,750.9 L962.7,751.0 L964.7,751.0 L966.7,751.0 L968.7,751.0 L970.7,751.0 L972.7,751.0 L974.7,751.0 L976.8,751.1 L978.8,751.1 L980.8,751.1 L982.8,751.1 L984.8,751.1 L986.8,751.2 L988.8,751.2 L990.8,751.2 L992.8,751.2 L994.8,751.3 L996.8,751.3 L998.8,751.3 L1000.8,751.3 L1002.8,751.4 L1004.8,751.4 L1006.7,751.4 L1008.7,751.5 L1010.7,751.5 L1012.7,751.5 L1014.7,751.6 L1016.7,751.6 L1018.7,751.6 L1020.7,751.7 L1022.7,751.7 L1024.7,751.8 L1026.7,751.8 L1028.7,751.9 L1030.7,751.9 L1032.7,752.0 L1034.7,752.0 L1036.7,752.1 L1038.7,752.1 L1040.7,752.2 L1042.7,752.2 L1044.7,752.3 L1046.7,752.4 L1048.7,752.4 L1050.7,752.5 L1052.7,752.6 L1054.7,752.6 L1056.7,752.7 L1058.7,752.8 L1060.7,752.9 L1062.7,752.9 L1064.7,753.0 L1066.7,753.1 L1068.7,753.2 L1070.7,753.3 L1072.6,753.4 L1074.6,753.5 L1076.6,753.6 L1078.6,753.7 L1080.6,753.8 L1082.6,753.9 L1084.6,754.0 L1086.6,754.1 L1088.6,754.2 L1090.6,754.3 L1092.6,754.4 L1094.6,754.5 L1096.6,754.7 L1098.6,754.8 L1100.6,754.9 L1102.6,755.0 L1104.6,755.2 L1106.6,755.3 L1108.6,755.4 L1110.5,755.6 L1112.5,755.7 L1114.5,755.9 L1116.5,756.0 L1118.5,756.2 L1120.5,756.4 L1122.5,756.5 L1124.5,756.7 L1126.5,756.9 L1128.5,757.1 L1130.5,757.3 L1132.4,757.6 L1134.4,757.8 L1136.4,758.0 L1138.4,758.3 L1140.4,758.6 L1142.3,758.9 L1144.3,759.2 L1146.3,759.5 L1148.2,759.9 L1150.2,760.3 L1152.1,760.6 L1154.1,761.0 L1156.0,761.5 L1158.0,761.9 L1159.9,762.4 L1161.9,762.9 L1163.8,763.4 L1165.7,764.0 L1167.6,764.6 L1169.5,765.2 L1171.5,765.8 L1173.4,766.4 L1175.3,767.1 L1177.1,767.8 L1179.0,768.5 L1180.9,769.2 L1182.8,770.0 L1184.6,770.7 L1186.5,771.5 L1188.3,772.4 L1190.2,773.2 L1192.0,774.1 L1193.8,774.9 L1195.6,775.8 L1197.4,776.8 L1199.2,777.7 L1200.9,778.7 L1202.7,779.7 L1204.5,780.7 L1206.2,781.7 L1207.9,782.7 L1209.6,783.8 L1211.3,784.9 L1213.0,786.0 L1214.7,787.1 L1216.4,788.2 L1218.0,789.4 L1219.6,790.6 L1221.3,791.8 L1222.9,793.0 L1224.4,794.2 L1226.0,795.5 L1227.6,796.7 L1229.1,798.0 L1230.6,799.3 L1232.1,800.6 L1233.6,801.9 L1235.1,803.3 L1236.6,804.6 L1238.0,806.0 L1239.4,807.4 L1240.8,808.8 L1242.2,810.2 L1243.6,811.7 L1245.0,813.1 L1246.3,814.6 L1247.6,816.0 L1249.0,817.5 L1250.3,819.0 L1251.6,820.5 L1252.9,822.1 L1254.1,823.6 L1255.4,825.1 L1256.6,826.7 L1257.9,828.2 L1259.1,829.8 L1260.4,831.3 L1261.6,832.9 L1262.8,834.5 L1264.0,836.1 L1265.2,837.7 L1266.4,839.3 L1267.6,840.9 L1268.8,842.5 L1270.0,844.1 L1271.1,845.7 L1272.3,847.4 L1273.5,849.0 L1274.7,850.6 L1275.8,852.2 L1277.0,853.9 L1278.2,855.5 L1279.4,857.1 L1280.5,858.8 L1281.7,860.4 L1282.9,862.0 L1284.1,863.6 L1285.3,865.3 L1286.4,866.9 L1287.6,868.5 L1288.8,870.1 L1290.0,871.7 L1291.2,873.3 L1292.5,874.9 L1293.7,876.5 L1294.9,878.1 L1296.1,879.7 L1297.4,881.3 L1298.6,882.8 L1299.9,884.4 L1301.2,885.9 L1302.5,887.5 L1303.8,889.0 L1305.1,890.5 L1306.4,892.0 L1307.7,893.5 L1309.1,895.0 L1310.5,896.5 L1311.8,898.0 L1313.2,899.4 L1314.6,900.9 L1316.0,902.3 L1317.5,903.7 L1318.9,905.1 L1320.4,906.5 L1321.9,907.9 L1323.4,909.2 L1324.9,910.5 L1326.4,911.8 L1327.9,913.1 L1329.5,914.4 L1331.1,915.6 L1332.6,916.8 L1334.2,918.0 L1335.8,919.2 L1337.5,920.3 L1339.1,921.4 L1340.8,922.5 L1342.4,923.6 L1344.1,924.6 L1345.8,925.6 L1347.5,926.6 L1349.3,927.5 L1351.0,928.4 L1352.8,929.3 L1354.6,930.1 L1356.4,930.9 L1358.2,931.7 L1360.0,932.4 L1361.8,933.1 L1363.7,933.7 L1365.5,934.4 L1367.4,934.9 L1369.3,935.5 L1371.2,936.0 L1373.1,936.5 L1375.1,937.0 L1377.0,937.5 L1378.9,937.9 L1380.9,938.3 L1382.9,938.7 L1384.8,939.0 L1386.8,939.4 L1388.8,939.7 L1390.8,940.0 L1392.8,940.3 L1394.8,940.6 L1396.8,940.8 L1398.8,941.1 L1400.8,941.3 L1402.8,941.6 L1404.8,941.8 L1406.8,942.0 L1408.8,942.3 L1410.8,942.5 L1412.9,942.7 L1414.9,943.0 L1416.9,943.2 L1418.9,943.4 L1420.9,943.6 L1422.9,943.8 L1424.9,944.1 L1426.9,944.3 L1428.9,944.5 L1430.9,944.7 L1432.9,945.0 L1434.9,945.2 L1436.9,945.4 L1438.9,945.6 L1440.9,945.8 L1442.9,946.0 L1444.9,946.2 L1446.9,946.5 L1448.9,946.7 L1450.9,946.9 L1452.9,947.1 L1454.9,947.3 L1456.9,947.5 L1458.9,947.7 L1460.9,947.9 L1462.9,948.1 L1464.9,948.3 L1466.9,948.5 L1468.9,948.7 L1470.9,948.9 L1472.9,949.1 L1474.9,949.3 L1476.9,949.5 L1478.9,949.7 L1480.9,949.9 L1482.9,950.1 L1484.9,950.3 L1486.8,950.5 L1488.8,950.7 L1490.8,950.9 L1492.8,951.1 L1494.8,951.3 L1496.8,951.5 L1498.8,951.7 L1500.8,951.9 L1502.8,952.1 L1504.8,952.2 L1506.7,952.4 L1508.7,952.6 L1510.7,952.8 L1512.7,953.0 L1514.7,953.2 L1516.7,953.3 L1518.7,953.5 L1520.7,953.7 L1522.6,953.9 L1524.6,954.1 L1526.6,954.2 L1528.6,954.4 L1530.6,954.6 L1532.6,954.8 L1534.6,954.9 L1536.6,955.1 L1538.5,955.3 L1540.5,955.5 L1542.5,955.6 L1544.5,955.8 L1546.5,956.0 L1548.5,956.1 L1550.5,956.3 L1552.5,956.5 L1554.4,956.6 L1556.4,956.8 L1558.4,957.0 L1560.4,957.1 L1562.4,957.3 L1564.4,957.5 L1566.4,957.6 L1568.4,957.8 L1570.3,957.9 L1572.3,958.1 L1574.3,958.3 L1576.3,958.4 L1578.3,958.6 L1580.3,958.7 L1582.3,958.9 L1584.3,959.0 L1586.3,959.2 L1588.3,959.3 L1590.2,959.5 L1592.2,959.6 L1594.2,959.8 L1596.2,959.9 L1598.2,960.1 L1600.2,960.2 L1602.2,960.4 L1604.2,960.5 L1606.2,960.6 L1608.2,960.8 L1610.1,960.9 L1612.1,961.1 L1614.1,961.2 L1616.1,961.4 L1618.1,961.5 L1620.1,961.6 L1622.1,961.8 L1624.1,961.9 L1626.1,962.0 L1628.1,962.2 L1630.1,962.3 L1632.1,962.4 L1634.1,962.6 L1636.0,962.7 L1638.0,962.8 L1640.0,963.0 L1642.0,963.1 L1644.0,963.2 L1646.0,963.4 L1648.0,963.5 L1650.0,963.6 L1652.0,963.7 L1654.0,963.9 L1656.0,964.0 L1658.0,964.1 L1660.0,964.2 L1662.0,964.4 L1664.0,964.5 L1665.9,964.6 L1667.9,964.7 L1669.9,964.9 L1671.9,965.0 L1673.9,965.1 L1675.9,965.2 L1677.9,965.3 L1679.9,965.4 L1681.9,965.6 L1683.9,965.7 L1685.9,965.8 L1687.9,965.9 L1689.9,966.0 L1691.9,966.1 L1693.9,966.2 L1695.9,966.4 L1697.9,966.5 L1699.9,966.6 L1701.9,966.7 L1703.9,966.8 L1705.9,966.9 L1707.8,967.0 L1709.8,967.1 L1711.8,967.2 L1713.8,967.3 L1715.8,967.5 L1717.8,967.6 L1719.8,967.7 L1721.8,967.8 L1723.8,967.9 L1725.8,968.0 L1727.8,968.1 L1729.8,968.2 L1731.8,968.3 L1733.8,968.4 L1735.8,968.5 L1737.8,968.6 L1739.8,968.7 L1741.8,968.8 L1743.8,968.9 L1745.8,969.0 L1747.8,969.1 L1749.8,969.2 L1751.8,969.3 L1753.8,969.4 L1755.8,969.5 L1757.8,969.6 L1759.8,969.7 L1761.8,969.8 L1763.8,969.8 L1765.8,969.9 L1767.8,970.0 L1769.8,970.1 L1771.8,970.2 L1773.8,970.3 L1775.8,970.4 L1777.8,970.5 L1779.8,970.6 L1781.8,970.7 L1783.8,970.8 L1785.8,970.8 L1787.8,970.9 L1789.8,971.0 L1791.8,971.1 L1793.8,971.2 L1795.8,971.3 L1797.8,971.4 L1799.8,971.5 L1801.8,971.5 L1803.8,971.6 L1805.8,971.7 L1807.8,971.8 L1809.7,971.9 L1811.7,972.0 L1813.7,972.1 L1815.7,972.1 L1817.7,972.2 L1819.7,972.3 L1821.7,972.4 L1823.7,972.5 L1825.7,972.5 L1827.7,972.6 L1829.7,972.7 L1831.7,972.8 L1833.7,972.9 L1835.7,972.9 L1837.7,973.0 L1839.7,973.1 L1841.7,973.2 L1843.7,973.3 L1845.7,973.3 L1847.7,973.4 L1849.7,973.5 L1851.7,973.6 L1853.7,973.7 L1855.8,973.7 L1857.8,973.8 L1859.8,973.9 L1861.8,974.0 L1863.8,974.0 L1865.8,974.1 L1867.8,974.2 L1869.8,974.3 L1871.8,974.3 L1873.8,974.4 L1875.8,974.5 L1877.8,974.6 L1879.8,974.6 L1881.8,974.7 L1883.8,974.8 L1885.8,974.8 L1887.8,974.9 L1889.8,975.0 L1891.8,975.1 L1893.8,975.1 L1895.8,975.2 L1897.8,975.3 L1899.8,975.3 L1901.8,975.4 L1903.8,975.5 L1905.8,975.6 L1907.8,975.6 L1909.8,975.7 L1911.8,975.8 L1913.8,975.8 L1915.8,975.9 L1917.8,976.0 L1919.8,976.1 L1921.8,976.1 L1923.8,976.2 L1925.8,976.3 L1927.8,976.3 L1929.8,976.4 L1931.8,976.5 L1933.8,976.5 L1935.8,976.6 L1937.8,976.7 L1939.8,976.7 L1941.8,976.8 L1943.8,976.9 L1945.8,976.9 L1947.8,977.0 L1949.8,977.1 L1951.8,977.1 L1953.8,977.2 L1955.8,977.3 L1957.8,977.3 L1959.8,977.4 L1961.8,977.5 L1963.8,977.6 L1965.8,977.6 L1967.8,977.7 L1969.8,977.8 L1971.8,977.8 L1973.8,977.9 L1975.8,978.0 L1977.8,978.0 L1979.8,978.1 L1981.8,978.2 L1983.8,978.2 L1985.8,978.3 L1987.8,978.4 L1989.8,978.4 L1991.8,978.5 L1993.8,978.6 L1995.8,978.6 L1997.8,978.7 L1999.8,978.8 L2001.8,978.8 L2003.8,978.9 L2005.8,979.0 L2007.8,979.0 L2009.8,979.1 L2011.8,979.2 L2013.8,979.2 L2015.8,979.3 L2017.8,979.4 L2019.8,979.4 L2021.8,979.5 L2023.8,979.6 L2025.8,979.6 L2027.8,979.7 L2029.8,979.8 L2031.8,979.8 L2033.8,979.9 L2035.8,980.0 L2037.8,980.0 L2039.8,980.1 L2041.8,980.2 L2043.8,980.2 L2045.8,980.3 L2047.8,980.4 L2049.8,980.4 L2051.8,980.5 L2053.8,980.6 L2055.8,980.6 L2057.8,980.7 L2059.8,980.8 L2061.8,980.8 L2063.8,980.9 L2065.8,981.0 L2067.8,981.0 L2069.8,981.1 L2071.8,981.2 L2073.8,981.3 L2075.8,981.3 L2077.8,981.4 L2079.8,981.5 L2081.8,981.5 L2083.8,981.6 L2085.8,981.7 L2087.8,981.7 L2089.8,981.8 L2091.8,981.9 L2093.8,982.0 L2095.8,982.0 L2097.8,982.1 L2099.8,982.2 L2101.8,982.2 L2103.8,982.3 L2105.8,982.4 L2107.8,982.5 L2109.8,982.5 L2111.8,982.6 L2113.8,982.7 L2115.8,982.8 L2117.8,982.8 L2119.8,982.9 L2121.8,983.0 L2123.8,983.1 L2125.8,983.1 L2127.8,983.2 L2129.8,983.3 L2131.8,983.4 L2133.8,983.4 L2135.8,983.5 L2137.7,983.6 L2139.7,983.7 L2141.7,983.7 L2143.7,983.8 L2145.7,983.9 L2147.7,984.0 L2149.7,984.1 L2151.7,984.1 L2153.7,984.2 L2155.7,984.3 L2157.7,984.4 L2159.7,984.4 L2161.7,984.5 L2163.7,984.6 L2165.7,984.7 L2167.7,984.8 L2169.7,984.9 L2171.7,984.9 L2173.7,985.0 L2175.7,985.1 L2177.7,985.2 L2179.7,985.3 L2181.7,985.3 L2183.7,985.4 L2185.7,985.5 L2187.7,985.6 L2189.6,985.7 L2191.6,985.8 L2193.6,985.9 L2195.6,985.9 L2197.6,986.0 L2199.6,986.1 L2201.6,986.2 L2203.6,986.3 L2205.6,986.4 L2207.6,986.5 L2209.6,986.6 L2211.6,986.7 L2213.6,986.7 L2215.6,986.8 L2217.6,986.9 L2219.6,987.0 L2221.6,987.1 L2223.5,987.2 L2225.5,987.3 L2227.5,987.4 L2229.5,987.5 L2231.5,987.6 L2233.5,987.7 L2234.9,987.7" stroke="#00ffff" stroke-width="11.0"/>
<g stroke="#000" stroke-width="11.0" stroke-linecap="round">
<path d="M409.0,150.4 L416.0,150.4"/>
<path d="M449.9,150.4 L456.9,150.4"/>
<path d="M493.0,150.4 L530.8,150.4"/>
<path d="M564.0,150.5 L571.0,150.5"/>
<path d="M606.5,150.6 L613.5,150.6"/>
<path d="M648.5,150.8 L685.8,150.9"/>
<path d="M721.8,151.0 L764.5,151.2"/>
<path d="M799.4,151.5 L806.4,151.5"/>
<path d="M841.2,151.8 L848.2,151.8"/>
<path d="M883.8,152.0 L922.5,152.0"/>
<path d="M957.8,152.0 L964.8,152.0"/>
<path d="M999.2,152.0 L1006.2,152.0"/>
<path d="M1041.8,152.1 L1080.2,152.2"/>
<path d="M1107.5,152.2 L1147.0,152.4"/>
<path d="M1181.5,152.8 L1188.5,152.8"/>
<path d="M1223.0,153.2 L1230.0,153.2"/>
<path d="M1264.2,153.6 L1304.0,154.8"/>
<path d="M1338.6,156.0 L1345.6,156.0"/>
<path d="M1380.8,157.0 L1387.8,157.0"/>
<path d="M1420.9,158.0 L1451.7,159.3"/>
<path d="M1484.4,161.5 L1523.2,163.8"/>
<path d="M1552.1,170.8 L1558.9,172.8"/>
<path d="M1584.2,179.3 L1590.8,181.7"/>
<path d="M1617.0,193.0 L1645.8,212.0"/>
<path d="M1668.8,234.4 L1673.7,239.6"/>
<path d="M1690.7,265.8 L1694.3,271.8"/>
<path d="M1709.5,303.2 L1720.5,339.5"/>
<path d="M1729.3,373.1 L1730.7,379.9"/>
<path d="M1737.4,413.6 L1738.6,420.4"/>
<path d="M1744.0,455.5 L1749.2,494.0"/>
<path d="M1753.3,529.0 L1754.2,536.0"/>
<path d="M1757.5,570.5 L1758.0,577.5"/>
<path d="M1761.8,612.5 L1765.0,652.0"/>
<path d="M1768.5,686.5 L1769.0,693.5"/>
<path d="M1771.7,728.0 L1772.3,735.0"/>
<path d="M1775.0,770.5 L1778.5,809.5"/>
<path d="M1781.0,844.2 L1781.5,851.2"/>
<path d="M1784.0,885.8 L1784.5,892.8"/>
<path d="M1787.0,928.0 L1790.0,967.5"/>
<path d="M1792.5,1002.5 L1793.0,1009.5"/>
<path d="M1796.0,1044.5 L1796.5,1051.5"/>
<path d="M1799.5,1086.8 L1803.0,1126.5"/>
<path d="M1806.6,1161.0 L1807.4,1168.0"/>
<path d="M1811.5,1202.8 L1812.5,1209.8"/>
<path d="M1817.0,1244.2 L1824.2,1281.5"/>
<path d="M1832.2,1313.6 L1834.2,1320.4"/>
<path d="M1845.5,1345.8 L1850.0,1351.2"/>
<path d="M1872.5,1369.2 L1902.5,1377.0"/>
<path d="M1934.0,1379.2 L1941.0,1379.2"/>
<path d="M1967.5,1380.2 L1974.5,1380.2"/>
<path d="M1999.8,1380.5 L2032.8,1380.5"/>
<path d="M2067.2,1381.2 L2074.2,1381.2"/>
<path d="M2109.0,1382.0 L2116.0,1382.0"/>
<path d="M2150.0,1382.8 L2189.5,1383.2"/>
<path d="M2224.2,1383.5 L2236.0,1383.5"/>
</g>
<g stroke="#d3d3d3" stroke-width="11.0" stroke-linecap="round">
<path d="M343.5,161.9 L381,147.8"/>
<path d="M440.0,146.9 L442.0,147.0 L444.0,147.1 L446.0,147.2 L448.0,147.3 L450.0,147.4 L452.0,147.6 L454.0,147.7 L456.0,147.8 L458.0,147.9 L460.0,148.1 L462.0,148.2 L464.0,148.3 L465.9,148.5 L467.9,148.6 L469.9,148.7 L471.9,148.9 L473.9,149.0 L475.9,149.2 L476.0,149.2"/>
<path d="M522.7,152.9 L523.8,153.0 L525.8,153.2 L527.8,153.3 L529.8,153.5 L531.8,153.6 L533.8,153.8 L535.7,154.0 L537.7,154.1 L539.7,154.3 L541.7,154.4 L543.7,154.6 L545.7,154.7 L547.7,154.9 L549.7,155.0 L551.7,155.2 L553.7,155.3 L555.7,155.4 L556.3,155.5"/>
<path d="M605.5,158.2 L605.6,158.2 L607.6,158.3 L609.6,158.4 L611.6,158.5 L613.6,158.6 L615.6,158.6 L617.6,158.7 L619.6,158.8 L621.6,158.9 L623.6,158.9 L625.6,159.0 L627.6,159.1 L629.6,159.2 L631.6,159.2 L633.6,159.3 L635.6,159.4 L637.6,159.4 L639.6,159.5 L641.6,159.6 L643.6,159.6 L644.5,159.7"/>
<path d="M696.5,161.0 L697.5,161.0 L699.5,161.1 L701.5,161.1 L703.5,161.2 L705.5,161.2 L707.5,161.3 L709.5,161.3 L711.5,161.4 L713.5,161.4 L715.5,161.4 L717.5,161.5 L719.5,161.5 L721.5,161.6 L723.5,161.6 L725.5,161.7 L727.5,161.7 L729.5,161.7 L731.5,161.8 L733.5,161.8 L735.5,161.9 L737.5,161.9 L739.5,161.9 L741.5,162.0 L743.5,162.0 L745.5,162.1 L747.5,162.1 L749.5,162.1 L751.5,162.2 L753.5,162.2 L755.5,162.3 L757.5,162.3 L759.5,162.3 L761.5,162.4 L763.5,162.4 L765.5,162.5 L767.0,162.5"/>
<path d="M828.3,163.5 L829.5,163.5 L831.5,163.6 L833.5,163.6 L835.5,163.6 L837.5,163.7 L839.5,163.7 L841.5,163.7 L843.5,163.8 L845.5,163.8 L847.5,163.8 L849.5,163.8 L851.5,163.9 L853.5,163.9 L855.5,163.9 L857.5,164.0 L859.5,164.0 L861.5,164.0 L863.5,164.0 L865.5,164.1 L867.5,164.1 L869.5,164.1 L871.5,164.1 L872.6,164.2"/>
<path d="M930.7,164.9 L931.5,164.9 L933.5,164.9 L935.5,164.9 L937.5,164.9 L939.5,165.0 L941.5,165.0 L943.5,165.0 L945.5,165.0 L947.5,165.0 L949.5,165.1 L951.5,165.1 L953.5,165.1 L955.5,165.1 L957.5,165.2 L959.5,165.2 L961.5,165.2 L963.5,165.2 L965.5,165.2 L967.5,165.3 L969.5,165.3 L971.5,165.3 L973.5,165.3 L975.2,165.3"/>
<path d="M1034.9,165.9 L1035.5,165.9 L1037.5,165.9 L1039.5,165.9 L1041.5,165.9 L1043.5,165.9 L1045.5,165.9 L1047.5,166.0 L1049.5,166.0 L1051.5,166.0 L1053.5,166.0 L1055.5,166.0 L1057.5,166.0 L1059.5,166.0 L1061.5,166.1 L1063.5,166.1 L1065.5,166.1 L1067.5,166.1 L1069.5,166.1 L1071.5,166.1 L1073.5,166.1 L1075.5,166.2 L1077.5,166.2 L1079.5,166.2 L1079.8,166.2"/>
<path d="M1107.6,166.4 L1109.5,166.4 L1111.5,166.4 L1113.5,166.4 L1115.5,166.4 L1117.5,166.4 L1119.5,166.5 L1121.5,166.5 L1123.5,166.5 L1125.5,166.5 L1127.5,166.5 L1129.5,166.5 L1131.5,166.5 L1133.5,166.5 L1135.5,166.6 L1137.5,166.6 L1139.5,166.6 L1141.5,166.6 L1143.5,166.6 L1145.5,166.6 L1147.5,166.6 L1149.5,166.6 L1151.5,166.7 L1152.5,166.7"/>
<path d="M1202.7,167.0 L1203.5,167.0 L1205.5,167.0 L1207.5,167.0 L1209.5,167.0 L1211.5,167.0 L1213.5,167.0 L1215.5,167.0 L1217.5,167.0 L1219.5,167.1 L1221.5,167.1 L1223.5,167.1 L1225.5,167.1 L1227.5,167.1 L1229.5,167.1 L1231.5,167.1 L1233.5,167.1 L1235.5,167.1 L1237.5,167.2 L1239.5,167.2 L1241.5,167.2 L1243.5,167.2 L1245.5,167.2 L1247.5,167.2 L1247.7,167.2"/>
<path d="M1307.2,167.6 L1307.5,167.6 L1309.5,167.6 L1311.5,167.6 L1313.5,167.6 L1315.5,167.6 L1317.5,167.6 L1319.5,167.6 L1321.5,167.7 L1323.5,167.7 L1325.5,167.7 L1327.5,167.7 L1329.5,167.7 L1331.5,167.7 L1333.5,167.7 L1335.5,167.7 L1337.5,167.8 L1339.5,167.8 L1341.5,167.8 L1342.8,167.8"/>
<path d="M1402.3,168.2 L1403.5,168.2 L1405.5,168.2 L1407.5,168.3 L1409.5,168.3 L1411.5,168.3 L1413.5,168.3 L1415.5,168.3 L1417.5,168.3 L1419.5,168.4 L1421.5,168.4 L1423.5,168.4 L1425.5,168.4 L1427.5,168.4 L1429.5,168.5 L1431.5,168.5 L1433.5,168.5 L1435.5,168.5 L1437.5,168.5 L1439.5,168.6 L1441.5,168.6 L1443.5,168.6 L1445.5,168.6 L1447.2,168.6"/>
<path d="M1489.9,169.1 L1491.5,169.1 L1493.5,169.2 L1495.5,169.2 L1497.5,169.2 L1499.5,169.3 L1501.5,169.3 L1503.5,169.3 L1505.5,169.3 L1507.5,169.4 L1509.5,169.4 L1511.5,169.4 L1513.5,169.5 L1515.5,169.5 L1517.5,169.5 L1519.5,169.5 L1521.5,169.6 L1523.5,169.6 L1525.5,169.6 L1527.5,169.7 L1529.5,169.7 L1531.2,169.7"/>
<path d="M1590.6,170.9 L1591.5,170.9 L1593.5,171.0 L1595.5,171.0 L1597.5,171.0 L1599.5,171.1 L1601.5,171.1 L1603.5,171.2 L1605.5,171.2 L1607.5,171.3 L1609.5,171.3 L1611.5,171.4 L1613.5,171.4 L1615.5,171.5 L1617.5,171.5 L1619.5,171.6 L1621.5,171.6 L1623.5,171.7 L1625.5,171.8 L1627.5,171.8 L1629.5,171.9 L1629.9,171.9"/>
<path d="M1676.4,173.3 L1677.4,173.3 L1679.4,173.4 L1681.4,173.5 L1683.4,173.6 L1685.4,173.6 L1687.4,173.7 L1689.4,173.8 L1691.4,173.8 L1693.4,173.9 L1695.4,174.0 L1697.4,174.1 L1699.4,174.1 L1701.4,174.2 L1703.4,174.3 L1705.4,174.4 L1707.4,174.5 L1709.4,174.5 L1711.4,174.6 L1713.4,174.7 L1715.4,174.8 L1717.4,174.9 L1719.4,174.9"/>
<path d="M1769.6,177.2 L1771.3,177.3 L1773.3,177.4 L1775.3,177.5 L1777.3,177.6 L1779.3,177.7 L1781.3,177.9 L1783.3,178.0 L1785.3,178.1 L1787.3,178.2 L1789.3,178.3 L1791.3,178.4 L1793.3,178.5 L1795.3,178.6 L1797.3,178.7 L1799.3,178.9 L1801.3,179.0 L1803.3,179.1 L1805.3,179.2 L1807.3,179.3 L1807.8,179.4"/>
<path d="M1857.4,182.7 L1859.1,182.9 L1861.1,183.0 L1863.1,183.2 L1865.1,183.3 L1867.1,183.5 L1869.1,183.7 L1871.1,183.8 L1873.1,184.0 L1875.1,184.1 L1877.1,184.3 L1879.0,184.5 L1881.0,184.6 L1883.0,184.8 L1885.0,185.0 L1887.0,185.1 L1889.0,185.3 L1891.0,185.5 L1893.0,185.7 L1895.0,185.8 L1897.0,186.0 L1899.0,186.2 L1900.9,186.4 L1902.9,186.5 L1904.9,186.7 L1905.2,186.8"/>
<path d="M1950.5,191.4 L1950.7,191.4 L1952.7,191.6 L1954.6,191.8 L1956.6,192.1 L1958.6,192.3 L1960.6,192.5 L1962.6,192.7 L1964.6,193.0 L1966.6,193.2 L1968.5,193.4 L1970.5,193.7 L1972.5,193.9 L1974.5,194.1 L1976.5,194.4 L1978.5,194.6 L1980.5,194.9 L1982.4,195.1 L1984.4,195.3 L1986.2,195.6"/>
<path d="M2032.5,201.1 L2034.1,201.3 L2036.1,201.5 L2038.0,201.7 L2040.0,202.0 L2042.0,202.2 L2044.0,202.4 L2046.0,202.6 L2048.0,202.8 L2050.0,203.1 L2052.0,203.3 L2054.0,203.5 L2055.9,203.7 L2057.9,203.9 L2059.9,204.1 L2061.9,204.4 L2063.9,204.6 L2065.9,204.8 L2067.9,205.0 L2069.1,205.1"/>
<path d="M2112.9,209.8 L2113.6,209.9 L2115.6,210.1 L2117.6,210.4 L2119.6,210.6 L2121.6,210.8 L2123.5,211.0 L2125.5,211.3 L2127.5,211.5 L2129.5,211.7 L2131.5,211.9 L2133.5,212.2 L2135.5,212.4 L2137.4,212.6 L2139.4,212.9 L2141.4,213.1 L2143.4,213.4 L2145.4,213.6 L2147.4,213.9 L2149.3,214.1 L2151.3,214.4 L2151.5,214.4"/>
<path d="M2204.9,223.1 L2206.5,223.5 L2208.4,223.9 L2210.4,224.3 L2212.3,224.7 L2214.3,225.1 L2216.2,225.6 L2218.2,226.0 L2220.1,226.5 L2222.1,226.9 L2224.0,227.4 L2226.0,227.9 L2227.9,228.4 L2229.9,228.9 L2231.8,229.4 L2233.7,229.9 L2235.7,230.4 L2236.1,230.5"/>
</g>
</g>
<rect x="432.1" y="895.2" width="576.5" height="582.7" fill="#fff" stroke="#000" stroke-width="2.07"/>
<g font-family="'Liberation Sans', sans-serif" font-size="66" fill="#000" style="font-kerning:none">
<path d="M440.5,940.7 H589.5" stroke="#000" stroke-width="11.0" stroke-linecap="round"/>
<text transform="translate(608.8,963.9) scale(1,1.04)">C-100/SPS-0</text>
<path d="M440.5,1022.7 H589.5" stroke="#ff0000" stroke-width="11.0" stroke-linecap="round"/>
<text transform="translate(608.8,1045.9) scale(1,1.04)">C-90/SPS-10</text>
<path d="M440.5,1104.7 H589.5" stroke="#0000ff" stroke-width="11.0" stroke-linecap="round"/>
<text transform="translate(608.8,1127.9) scale(1,1.04)">C-80/SPS-20</text>
<path d="M440.5,1186.7 H589.5" stroke="#008000" stroke-width="11.0" stroke-linecap="round"/>
<text transform="translate(608.8,1209.9) scale(1,1.04)">C-70/SPS-30</text>
<path d="M440.5,1268.7 H589.5" stroke="#00ffff" stroke-width="11.0" stroke-linecap="round"/>
<text transform="translate(608.8,1291.9) scale(1,1.04)">C-60/SPS-40</text>
<path d="M440.5,1350.7 H480.2 M514.5,1350.7 H521.6 M556.5,1350.7 H563.6" stroke="#000" stroke-width="11.0" stroke-linecap="round"/>
<text transform="translate(608.8,1373.1) scale(1,1.04)">PP</text>
<path d="M440.5,1432.7 H485 M544.8,1432.7 H589.3" stroke="#d3d3d3" stroke-width="11.0" stroke-linecap="round"/>
<text transform="translate(608.8,1455.1) scale(1,1.04)">C</text>
</g>
<g font-family="'Liberation Sans', sans-serif" font-size="65" fill="#000" style="font-kerning:none">
<text transform="translate(292.7,1452.2) scale(1,1.04)" text-anchor="end">0</text>
<text transform="translate(292.7,1198.3) scale(1,1.04)" text-anchor="end">20</text>
<text transform="translate(292.7,944.4) scale(1,1.04)" text-anchor="end">40</text>
<text transform="translate(292.7,690.4) scale(1,1.04)" text-anchor="end">60</text>
<text transform="translate(292.7,436.5) scale(1,1.04)" text-anchor="end">80</text>
<text transform="translate(292.7,182.6) scale(1,1.04)" text-anchor="end">100</text>
<text transform="translate(589.4,1660.7) scale(1,1.04)" text-anchor="middle">100</text>
<text transform="translate(917.5,1660.7) scale(1,1.04)" text-anchor="middle">200</text>
<text transform="translate(1245.7,1660.7) scale(1,1.04)" text-anchor="middle">300</text>
<text transform="translate(1573.8,1660.7) scale(1,1.04)" text-anchor="middle">400</text>
<text transform="translate(1901.9,1660.7) scale(1,1.04)" text-anchor="middle">500</text>
<text transform="translate(2230.1,1660.7) scale(1,1.04)" text-anchor="middle">600</text>
</g>
<g font-family="'Liberation Sans', sans-serif" font-size="79.2" fill="#000" style="font-kerning:none">
<text transform="translate(979.9,1791.9) scale(1,1.015)">Temperature (<tspan font-size="54" dy="-31.4">o</tspan><tspan dy="31.4">C)</tspan></text>
<text transform="translate(96.8,1046.7) rotate(-90) scale(1,1.015)" font-size="79.6">Weight loss (%)</text>
</g>
</svg>
</body></html>
